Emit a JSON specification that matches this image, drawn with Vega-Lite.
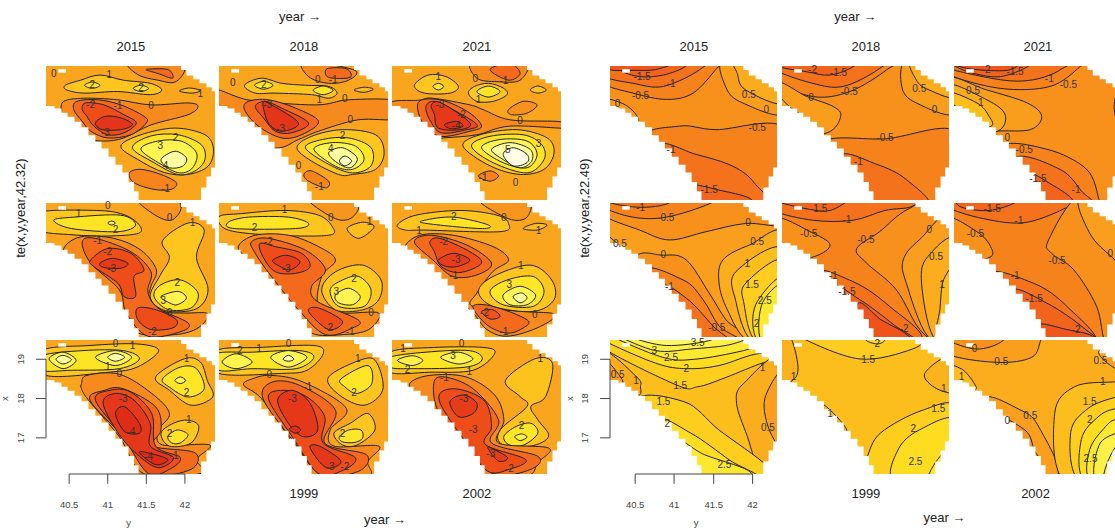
{"$schema":"https://vega.github.io/schema/vega-lite/v6.json","padding":{"left":0,"top":11,"right":0,"bottom":0},"background":"white","bounds":"flush","config":{"axis":{"disable":true},"view":{"stroke":null}},
"datasets":{"mask":[
{"m":1,"x":40.2,"y":18.47},{"m":1,"x":40.31,"y":18.41},{"m":1,"x":40.4,"y":18.3},{"m":1,"x":40.48,"y":18.2},{"m":1,"x":40.57,"y":18.07},{"m":1,"x":40.66,"y":17.93},{"m":1,"x":40.75,"y":17.73},{"m":1,"x":40.84,"y":17.56},{"m":1,"x":40.92,"y":17.39},{"m":1,"x":41.01,"y":17.18},{"m":1,"x":41.1,"y":16.98},{"m":1,"x":41.19,"y":16.78},{"m":1,"x":41.27,"y":16.54},{"m":1,"x":41.34,"y":16.3},{"m":1,"x":41.4,"y":16.08},{"m":1,"x":40.2,"y":16.08},
{"m":2,"x":41.93,"y":19.49},{"m":2,"x":41.95,"y":19.39},{"m":2,"x":42.02,"y":19.25},{"m":2,"x":42.11,"y":19.15},{"m":2,"x":42.19,"y":19.05},{"m":2,"x":42.28,"y":18.95},{"m":2,"x":42.35,"y":18.85},{"m":2,"x":42.39,"y":18.74},{"m":2,"x":42.39,"y":19.49},
{"m":3,"x":42.39,"y":16.91},{"m":3,"x":42.34,"y":16.68},{"m":3,"x":42.28,"y":16.4},{"m":3,"x":42.21,"y":16.08},{"m":3,"x":42.39,"y":16.08},
{"m":4,"x":40.36,"y":19.41},{"m":4,"x":40.46,"y":19.41},{"m":4,"x":40.46,"y":19.32},{"m":4,"x":40.36,"y":19.32}],
"d":[
{"p":1,"l":0.5},{"p":2,"l":0.5},{"p":3,"l":0.5},{"p":4,"l":0.5},{"p":5,"l":0.5},{"p":6,"l":0.5},{"p":7,"l":0.5},{"p":8,"l":0.5},{"p":9,"l":0.5},
{"p":11,"l":-0.25},{"p":12,"l":-0.25},{"p":13,"l":-0.25},{"p":14,"l":0.25},{"p":15,"l":-0.75},{"p":16,"l":-0.75},{"p":17,"l":1.25},{"p":18,"l":1.25},{"p":19,"l":0.75},
{"p":1,"l":1.5,"x":40.45,"y":19},{"p":1,"l":1.5,"x":40.65,"y":19.13},{"p":1,"l":1.5,"x":40.9,"y":19.26},{"p":1,"l":1.5,"x":41.2,"y":19.13},{"p":1,"l":1.5,"x":41.55,"y":19.05},{"p":1,"l":1.5,"x":41.7,"y":18.88},{"p":1,"l":1.5,"x":41.55,"y":18.76},{"p":1,"l":1.5,"x":41.13,"y":18.84},{"p":1,"l":1.5,"x":40.7,"y":18.8},{"p":1,"l":1.5,"x":40.47,"y":18.88},
{"p":1,"l":2.5,"x":40.7,"y":19},{"p":1,"l":2.5,"x":40.8,"y":19.08},{"p":1,"l":2.5,"x":40.9,"y":19},{"p":1,"l":2.5,"x":40.8,"y":18.92},
{"p":1,"l":2.51,"x":41.33,"y":18.92},{"p":1,"l":2.51,"x":41.43,"y":19},{"p":1,"l":2.51,"x":41.53,"y":18.92},{"p":1,"l":2.51,"x":41.43,"y":18.84},
{"p":1,"l":-0.5,"x":41.28,"y":19.6},{"p":1,"l":-0.5,"x":41.39,"y":19.27},{"p":1,"l":-0.5,"x":41.65,"y":19.13},{"p":1,"l":-0.5,"x":41.87,"y":19.08},{"p":1,"l":-0.5,"x":42,"y":19.4},{"p":1,"l":-0.5,"x":41.9,"y":19.7},
{"p":1,"l":-1.5,"x":41.5,"y":19.4},{"p":1,"l":-1.5,"x":41.65,"y":19.3},{"p":1,"l":-1.5,"x":41.84,"y":19.18},{"p":1,"l":-1.5,"x":41.78,"y":19.4},
{"p":1,"l":1.2,"x":41.93,"y":18.85},{"p":1,"l":1.2,"x":42.05,"y":18.93},{"p":1,"l":1.2,"x":42.2,"y":18.87},{"p":1,"l":1.2,"x":42.1,"y":18.8},
{"p":1,"l":-0.51,"x":40.39,"y":18.33},{"p":1,"l":-0.51,"x":40.43,"y":18.59},{"p":1,"l":-0.51,"x":40.69,"y":18.67},{"p":1,"l":-0.51,"x":41.13,"y":18.63},{"p":1,"l":-0.51,"x":41.56,"y":18.5},{"p":1,"l":-0.51,"x":42.04,"y":18.55},{"p":1,"l":-0.51,"x":42.17,"y":18.46},{"p":1,"l":-0.51,"x":42.04,"y":18.25},{"p":1,"l":-0.51,"x":41.56,"y":17.99},{"p":1,"l":-0.51,"x":41.21,"y":17.66},{"p":1,"l":-0.51,"x":40.95,"y":17.58},{"p":1,"l":-0.51,"x":40.69,"y":17.66},{"p":1,"l":-0.51,"x":40.34,"y":18.04},
{"p":1,"l":-1.51,"x":40.56,"y":18.38},{"p":1,"l":-1.51,"x":40.6,"y":18.59},{"p":1,"l":-1.51,"x":40.87,"y":18.63},{"p":1,"l":-1.51,"x":41.17,"y":18.5},{"p":1,"l":-1.51,"x":41.47,"y":18.21},{"p":1,"l":-1.51,"x":41.5,"y":18.04},{"p":1,"l":-1.51,"x":41.3,"y":17.74},{"p":1,"l":-1.51,"x":41,"y":17.66},{"p":1,"l":-1.51,"x":40.78,"y":17.83},{"p":1,"l":-1.51,"x":40.67,"y":18.08},
{"p":1,"l":-2.5,"x":40.67,"y":18.38},{"p":1,"l":-2.5,"x":40.71,"y":18.55},{"p":1,"l":-2.5,"x":40.95,"y":18.5},{"p":1,"l":-2.5,"x":41.21,"y":18.25},{"p":1,"l":-2.5,"x":41.37,"y":18.04},{"p":1,"l":-2.5,"x":41.21,"y":17.79},{"p":1,"l":-2.5,"x":41,"y":17.74},{"p":1,"l":-2.5,"x":40.82,"y":17.96},{"p":1,"l":-2.5,"x":40.73,"y":18.21},
{"p":1,"l":-3.5,"x":40.84,"y":18.04},{"p":1,"l":-3.5,"x":40.97,"y":18.21},{"p":1,"l":-3.5,"x":41.17,"y":18.17},{"p":1,"l":-3.5,"x":41.32,"y":18},{"p":1,"l":-3.5,"x":41.17,"y":17.87},{"p":1,"l":-3.5,"x":40.93,"y":17.87},
{"p":1,"l":1.51,"x":41.17,"y":17.45},{"p":1,"l":1.51,"x":41.43,"y":17.74},{"p":1,"l":1.51,"x":41.87,"y":17.91},{"p":1,"l":1.51,"x":42.26,"y":17.74},{"p":1,"l":1.51,"x":42.37,"y":17.37},{"p":1,"l":1.51,"x":42.3,"y":16.94},{"p":1,"l":1.51,"x":42.04,"y":16.73},{"p":1,"l":1.51,"x":41.73,"y":16.78},{"p":1,"l":1.51,"x":41.39,"y":17.11},
{"p":1,"l":2.52,"x":41.32,"y":17.41},{"p":1,"l":2.52,"x":41.56,"y":17.71},{"p":1,"l":2.52,"x":41.91,"y":17.74},{"p":1,"l":2.52,"x":42.21,"y":17.49},{"p":1,"l":2.52,"x":42.26,"y":17.11},{"p":1,"l":2.52,"x":42.13,"y":16.82},{"p":1,"l":2.52,"x":41.91,"y":16.73},{"p":1,"l":2.52,"x":41.6,"y":17.03},
{"p":1,"l":3.5,"x":41.43,"y":17.37},{"p":1,"l":3.5,"x":41.65,"y":17.58},{"p":1,"l":3.5,"x":41.95,"y":17.58},{"p":1,"l":3.5,"x":42.15,"y":17.28},{"p":1,"l":3.5,"x":42.1,"y":16.9},{"p":1,"l":3.5,"x":41.93,"y":16.77},{"p":1,"l":3.5,"x":41.69,"y":16.99},
{"p":1,"l":4.6,"x":41.69,"y":17.11},{"p":1,"l":4.6,"x":41.87,"y":17.32},{"p":1,"l":4.6,"x":42.02,"y":17.15},{"p":1,"l":4.6,"x":41.97,"y":16.94},{"p":1,"l":4.6,"x":41.8,"y":16.9},
{"p":1,"l":-0.7,"x":41.28,"y":16.77},{"p":1,"l":-0.7,"x":41.43,"y":16.86},{"p":1,"l":-0.7,"x":41.69,"y":16.73},{"p":1,"l":-0.7,"x":41.89,"y":16.52},{"p":1,"l":-0.7,"x":41.82,"y":16.35},{"p":1,"l":-0.7,"x":41.6,"y":16.35},{"p":1,"l":-0.7,"x":41.34,"y":16.52},
{"p":2,"l":1.5,"x":40.53,"y":19},{"p":2,"l":1.5,"x":40.75,"y":19.18},{"p":2,"l":1.5,"x":41.01,"y":19.05},{"p":2,"l":1.5,"x":41.32,"y":19},{"p":2,"l":1.5,"x":41.62,"y":18.97},{"p":2,"l":1.5,"x":41.73,"y":18.8},{"p":2,"l":1.5,"x":41.62,"y":18.67},{"p":2,"l":1.5,"x":41.4,"y":18.76},{"p":2,"l":1.5,"x":40.93,"y":18.8},{"p":2,"l":1.5,"x":40.67,"y":18.8},
{"p":2,"l":2.5,"x":40.66,"y":19},{"p":2,"l":2.5,"x":40.78,"y":19.1},{"p":2,"l":2.5,"x":40.9,"y":19},{"p":2,"l":2.5,"x":40.78,"y":18.9},
{"p":2,"l":2.51,"x":41.42,"y":18.87},{"p":2,"l":2.51,"x":41.55,"y":18.98},{"p":2,"l":2.51,"x":41.68,"y":18.87},{"p":2,"l":2.51,"x":41.55,"y":18.76},
{"p":2,"l":-0.5,"x":41.3,"y":19.6},{"p":2,"l":-0.5,"x":41.36,"y":19.22},{"p":2,"l":-0.5,"x":41.62,"y":19.05},{"p":2,"l":-0.5,"x":41.88,"y":19.13},{"p":2,"l":-0.5,"x":41.95,"y":19.39},
{"p":2,"l":-1.5,"x":41.62,"y":19.2},{"p":2,"l":-1.5,"x":41.9,"y":19.2},{"p":2,"l":-1.5,"x":41.85,"y":19.42},{"p":2,"l":-1.5,"x":41.6,"y":19.42},
{"p":2,"l":1.2,"x":41.95,"y":18.88},{"p":2,"l":1.2,"x":42.08,"y":18.95},{"p":2,"l":1.2,"x":42.2,"y":18.9},{"p":2,"l":1.2,"x":42.08,"y":18.82},
{"p":2,"l":-0.51,"x":40.1,"y":18.85},{"p":2,"l":-0.51,"x":40.6,"y":18.62},{"p":2,"l":-0.51,"x":41.45,"y":18.5},{"p":2,"l":-0.51,"x":41.88,"y":18.63},{"p":2,"l":-0.51,"x":42.5,"y":18.6},{"p":2,"l":-0.51,"x":42.5,"y":18.15},{"p":2,"l":-0.51,"x":42,"y":18.12},{"p":2,"l":-0.51,"x":41.49,"y":17.83},{"p":2,"l":-0.51,"x":41.23,"y":17.62},{"p":2,"l":-0.51,"x":40.93,"y":17.4},{"p":2,"l":-0.51,"x":40.3,"y":17.6},
{"p":2,"l":-1.51,"x":40.53,"y":18.38},{"p":2,"l":-1.51,"x":40.58,"y":18.59},{"p":2,"l":-1.51,"x":40.84,"y":18.63},{"p":2,"l":-1.51,"x":41.19,"y":18.42},{"p":2,"l":-1.51,"x":41.49,"y":18.08},{"p":2,"l":-1.51,"x":41.27,"y":17.74},{"p":2,"l":-1.51,"x":41.01,"y":17.66},{"p":2,"l":-1.51,"x":40.71,"y":17.96},
{"p":2,"l":-2.5,"x":40.67,"y":18.46},{"p":2,"l":-2.5,"x":40.8,"y":18.59},{"p":2,"l":-2.5,"x":41.01,"y":18.42},{"p":2,"l":-2.5,"x":41.36,"y":18.04},{"p":2,"l":-2.5,"x":41.14,"y":17.79},{"p":2,"l":-2.5,"x":40.93,"y":17.83},{"p":2,"l":-2.5,"x":40.78,"y":18.16},
{"p":2,"l":-3.5,"x":40.77,"y":18.55},{"p":2,"l":-3.5,"x":40.88,"y":18.5},{"p":2,"l":-3.5,"x":41.23,"y":18.04},{"p":2,"l":-3.5,"x":41.01,"y":17.83},{"p":2,"l":-3.5,"x":40.84,"y":18.04},
{"p":2,"l":1.51,"x":41.21,"y":17.41},{"p":2,"l":1.51,"x":41.4,"y":17.7},{"p":2,"l":1.51,"x":41.8,"y":17.87},{"p":2,"l":1.51,"x":42.23,"y":17.74},{"p":2,"l":1.51,"x":42.34,"y":17.28},{"p":2,"l":1.51,"x":42.23,"y":16.86},{"p":2,"l":1.51,"x":41.93,"y":16.73},{"p":2,"l":1.51,"x":41.75,"y":16.73},{"p":2,"l":1.51,"x":41.4,"y":17.07},
{"p":2,"l":2.52,"x":41.32,"y":17.41},{"p":2,"l":2.52,"x":41.54,"y":17.62},{"p":2,"l":2.52,"x":41.88,"y":17.66},{"p":2,"l":2.52,"x":42.17,"y":17.41},{"p":2,"l":2.52,"x":42.17,"y":16.95},{"p":2,"l":2.52,"x":41.93,"y":16.77},{"p":2,"l":2.52,"x":41.62,"y":16.99},
{"p":2,"l":3.5,"x":41.43,"y":17.37},{"p":2,"l":3.5,"x":41.67,"y":17.54},{"p":2,"l":3.5,"x":41.97,"y":17.45},{"p":2,"l":3.5,"x":42.08,"y":17.11},{"p":2,"l":3.5,"x":41.93,"y":16.86},{"p":2,"l":3.5,"x":41.71,"y":16.94},
{"p":2,"l":4.5,"x":41.62,"y":17.28},{"p":2,"l":4.5,"x":41.8,"y":17.41},{"p":2,"l":4.5,"x":41.99,"y":17.15},{"p":2,"l":4.5,"x":41.9,"y":16.9},{"p":2,"l":4.5,"x":41.73,"y":17.03},
{"p":2,"l":5,"x":41.76,"y":17.07},{"p":2,"l":5,"x":41.83,"y":17.2},{"p":2,"l":5,"x":41.92,"y":17.07},{"p":2,"l":5,"x":41.83,"y":16.95},
{"p":2,"l":-0.7,"x":41.3,"y":16.73},{"p":2,"l":-0.7,"x":41.4,"y":16.82},{"p":2,"l":-0.7,"x":41.62,"y":16.56},{"p":2,"l":-0.7,"x":41.58,"y":16.39},{"p":2,"l":-0.7,"x":41.36,"y":16.56},
{"p":3,"l":1.5,"x":40.49,"y":19},{"p":3,"l":1.5,"x":40.67,"y":19.26},{"p":3,"l":1.5,"x":40.9,"y":19.22},{"p":3,"l":1.5,"x":41.06,"y":18.97},{"p":3,"l":1.5,"x":40.95,"y":18.8},{"p":3,"l":1.5,"x":40.62,"y":18.8},
{"p":3,"l":2.5,"x":40.73,"y":18.97},{"p":3,"l":2.5,"x":40.8,"y":19.05},{"p":3,"l":2.5,"x":40.87,"y":18.97},{"p":3,"l":2.5,"x":40.8,"y":18.88},
{"p":3,"l":1.51,"x":41.19,"y":18.8},{"p":3,"l":1.51,"x":41.27,"y":18.97},{"p":3,"l":1.51,"x":41.45,"y":19.05},{"p":3,"l":1.51,"x":41.64,"y":18.93},{"p":3,"l":1.51,"x":41.69,"y":18.76},{"p":3,"l":1.51,"x":41.51,"y":18.59},{"p":3,"l":1.51,"x":41.3,"y":18.59},
{"p":3,"l":2.51,"x":41.3,"y":18.84},{"p":3,"l":2.51,"x":41.45,"y":18.98},{"p":3,"l":2.51,"x":41.6,"y":18.84},{"p":3,"l":2.51,"x":41.45,"y":18.7},
{"p":3,"l":1.3,"x":41.99,"y":18.88},{"p":3,"l":1.3,"x":42.09,"y":18.98},{"p":3,"l":1.3,"x":42.2,"y":18.88},{"p":3,"l":1.3,"x":42.09,"y":18.8},
{"p":3,"l":-0.5,"x":41.25,"y":19.6},{"p":3,"l":-0.5,"x":41.3,"y":19.18},{"p":3,"l":-0.5,"x":41.56,"y":19.09},{"p":3,"l":-0.5,"x":41.86,"y":19.13},{"p":3,"l":-0.5,"x":41.93,"y":19.6},
{"p":3,"l":-1.5,"x":41.47,"y":19.4},{"p":3,"l":-1.5,"x":41.71,"y":19.13},{"p":3,"l":-1.5,"x":41.86,"y":19.3},{"p":3,"l":-1.5,"x":41.73,"y":19.55},
{"p":3,"l":-0.2,"x":41.71,"y":18.38},{"p":3,"l":-0.2,"x":41.9,"y":18.59},{"p":3,"l":-0.2,"x":42.08,"y":18.5},{"p":3,"l":-0.2,"x":41.95,"y":18.29},{"p":3,"l":-0.2,"x":41.75,"y":18.25},
{"p":3,"l":-0.51,"x":40.15,"y":18.5},{"p":3,"l":-0.51,"x":40.55,"y":18.62},{"p":3,"l":-0.51,"x":40.73,"y":18.67},{"p":3,"l":-0.51,"x":41.21,"y":18.5},{"p":3,"l":-0.51,"x":41.38,"y":18.38},{"p":3,"l":-0.51,"x":41.73,"y":18.12},{"p":3,"l":-0.51,"x":42.34,"y":18.08},{"p":3,"l":-0.51,"x":42.5,"y":18},{"p":3,"l":-0.51,"x":42.5,"y":17.9},{"p":3,"l":-0.51,"x":41.73,"y":17.96},{"p":3,"l":-0.51,"x":41.3,"y":17.74},{"p":3,"l":-0.51,"x":40.87,"y":17.66},{"p":3,"l":-0.51,"x":40.4,"y":17.6},
{"p":3,"l":-1.51,"x":40.53,"y":18.5},{"p":3,"l":-1.51,"x":40.64,"y":18.65},{"p":3,"l":-1.51,"x":40.9,"y":18.59},{"p":3,"l":-1.51,"x":41.21,"y":18.29},{"p":3,"l":-1.51,"x":41.36,"y":17.96},{"p":3,"l":-1.51,"x":41.21,"y":17.83},{"p":3,"l":-1.51,"x":40.82,"y":17.7},{"p":3,"l":-1.51,"x":40.6,"y":18.04},
{"p":3,"l":-2.5,"x":40.64,"y":18.46},{"p":3,"l":-2.5,"x":40.75,"y":18.59},{"p":3,"l":-2.5,"x":40.99,"y":18.38},{"p":3,"l":-2.5,"x":41.3,"y":18},{"p":3,"l":-2.5,"x":41.17,"y":17.87},{"p":3,"l":-2.5,"x":40.84,"y":17.79},{"p":3,"l":-2.5,"x":40.69,"y":18.12},
{"p":3,"l":-3.3,"x":40.71,"y":18.5},{"p":3,"l":-3.3,"x":40.84,"y":18.55},{"p":3,"l":-3.3,"x":41.21,"y":18.04},{"p":3,"l":-3.3,"x":41.08,"y":17.87},{"p":3,"l":-3.3,"x":40.8,"y":17.91},{"p":3,"l":-3.3,"x":40.75,"y":18.25},
{"p":3,"l":-4,"x":40.88,"y":18},{"p":3,"l":-4,"x":41.04,"y":18.08},{"p":3,"l":-4,"x":41.12,"y":17.96},{"p":3,"l":-4,"x":40.97,"y":17.89},
{"p":3,"l":1.52,"x":41.12,"y":17.45},{"p":3,"l":1.52,"x":41.34,"y":17.74},{"p":3,"l":1.52,"x":41.82,"y":17.87},{"p":3,"l":1.52,"x":42.21,"y":17.66},{"p":3,"l":1.52,"x":42.3,"y":17.28},{"p":3,"l":1.52,"x":42.17,"y":16.86},{"p":3,"l":1.52,"x":41.86,"y":16.73},{"p":3,"l":1.52,"x":41.47,"y":16.95},
{"p":3,"l":2.52,"x":41.23,"y":17.45},{"p":3,"l":2.52,"x":41.47,"y":17.7},{"p":3,"l":2.52,"x":41.9,"y":17.74},{"p":3,"l":2.52,"x":42.14,"y":17.49},{"p":3,"l":2.52,"x":42.17,"y":17.11},{"p":3,"l":2.52,"x":41.95,"y":16.77},{"p":3,"l":2.52,"x":41.51,"y":17.03},
{"p":3,"l":3.5,"x":41.36,"y":17.41},{"p":3,"l":3.5,"x":41.6,"y":17.62},{"p":3,"l":3.5,"x":41.95,"y":17.58},{"p":3,"l":3.5,"x":42.08,"y":17.24},{"p":3,"l":3.5,"x":41.95,"y":16.9},{"p":3,"l":3.5,"x":41.64,"y":17.03},
{"p":3,"l":4.5,"x":41.49,"y":17.37},{"p":3,"l":4.5,"x":41.73,"y":17.54},{"p":3,"l":4.5,"x":41.99,"y":17.37},{"p":3,"l":4.5,"x":42.01,"y":17.07},{"p":3,"l":4.5,"x":41.86,"y":16.9},{"p":3,"l":4.5,"x":41.64,"y":17.11},
{"p":3,"l":5.6,"x":41.64,"y":17.24},{"p":3,"l":5.6,"x":41.77,"y":17.41},{"p":3,"l":5.6,"x":41.95,"y":17.24},{"p":3,"l":5.6,"x":41.95,"y":17.03},{"p":3,"l":5.6,"x":41.77,"y":16.95},
{"p":3,"l":-0.8,"x":41.32,"y":16.69},{"p":3,"l":-0.8,"x":41.47,"y":16.82},{"p":3,"l":-0.8,"x":41.58,"y":16.69},{"p":3,"l":-0.8,"x":41.47,"y":16.56},
{"p":4,"l":1.5,"x":40.1,"y":19.25},{"p":4,"l":1.5,"x":40.85,"y":19.3},{"p":4,"l":1.5,"x":41.2,"y":19.2},{"p":4,"l":1.5,"x":41.4,"y":18.95},{"p":4,"l":1.5,"x":41.4,"y":18.72},{"p":4,"l":1.5,"x":41,"y":18.65},{"p":4,"l":1.5,"x":40.55,"y":18.68},{"p":4,"l":1.5,"x":40.1,"y":18.8},
{"p":4,"l":2.5,"x":40.3,"y":19.05},{"p":4,"l":2.5,"x":40.56,"y":19.13},{"p":4,"l":2.5,"x":41.17,"y":19.18},{"p":4,"l":2.5,"x":41.36,"y":18.93},{"p":4,"l":2.5,"x":41.13,"y":18.76},{"p":4,"l":2.5,"x":40.53,"y":18.84},
{"p":4,"l":3,"x":41,"y":18.98},{"p":4,"l":3,"x":41.05,"y":19.03},{"p":4,"l":3,"x":41.1,"y":18.98},{"p":4,"l":3,"x":41.05,"y":18.93},
{"p":4,"l":-0.2,"x":41.39,"y":19.6},{"p":4,"l":-0.2,"x":41.6,"y":19.2},{"p":4,"l":-0.2,"x":41.82,"y":19.05},{"p":4,"l":-0.2,"x":41.95,"y":19.35},{"p":4,"l":-0.2,"x":41.85,"y":19.6},
{"p":4,"l":1.51,"x":42.04,"y":18.98},{"p":4,"l":1.51,"x":41.71,"y":18.53},{"p":4,"l":1.51,"x":41.8,"y":18.1},{"p":4,"l":1.51,"x":41.68,"y":17.65},{"p":4,"l":1.51,"x":41.55,"y":17.1},{"p":4,"l":1.51,"x":41.75,"y":16.75},{"p":4,"l":1.51,"x":42.15,"y":16.8},{"p":4,"l":1.51,"x":42.3,"y":17.3},{"p":4,"l":1.51,"x":42.15,"y":18.1},{"p":4,"l":1.51,"x":42.25,"y":18.8},
{"p":4,"l":2.51,"x":41.6,"y":17.11},{"p":4,"l":2.51,"x":41.69,"y":17.41},{"p":4,"l":2.51,"x":41.95,"y":17.53},{"p":4,"l":2.51,"x":42.17,"y":17.2},{"p":4,"l":2.51,"x":42.08,"y":16.82},{"p":4,"l":2.51,"x":41.78,"y":16.78},
{"p":4,"l":3.4,"x":41.69,"y":17.11},{"p":4,"l":3.4,"x":41.91,"y":17.24},{"p":4,"l":3.4,"x":42.02,"y":17.07},{"p":4,"l":3.4,"x":41.9,"y":16.9},{"p":4,"l":3.4,"x":41.8,"y":16.95},
{"p":4,"l":-0.5,"x":40.43,"y":18.33},{"p":4,"l":-0.5,"x":40.65,"y":18.63},{"p":4,"l":-0.5,"x":41.08,"y":18.59},{"p":4,"l":-0.5,"x":41.43,"y":18.29},{"p":4,"l":-0.5,"x":41.63,"y":17.79},{"p":4,"l":-0.5,"x":41.56,"y":17.37},{"p":4,"l":-0.5,"x":41.54,"y":17.03},{"p":4,"l":-0.5,"x":41.73,"y":16.73},{"p":4,"l":-0.5,"x":42,"y":16.69},{"p":4,"l":-0.5,"x":42.3,"y":16.67},{"p":4,"l":-0.5,"x":42.17,"y":16.31},{"p":4,"l":-0.5,"x":41.87,"y":16.14},{"p":4,"l":-0.5,"x":41.39,"y":16.18},{"p":4,"l":-0.5,"x":41.17,"y":16.69},{"p":4,"l":-0.5,"x":40.87,"y":17.37},{"p":4,"l":-0.5,"x":40.52,"y":17.96},
{"p":4,"l":-1.5,"x":40.67,"y":18.5},{"p":4,"l":-1.5,"x":40.84,"y":18.59},{"p":4,"l":-1.5,"x":41.3,"y":18.25},{"p":4,"l":-1.5,"x":41.56,"y":17.74},{"p":4,"l":-1.5,"x":41.52,"y":17.24},{"p":4,"l":-1.5,"x":41.65,"y":16.82},{"p":4,"l":-1.5,"x":42.04,"y":16.44},{"p":4,"l":-1.5,"x":41.95,"y":16.22},{"p":4,"l":-1.5,"x":41.52,"y":16.1},{"p":4,"l":-1.5,"x":41.24,"y":16.69},{"p":4,"l":-1.5,"x":41.15,"y":17.28},{"p":4,"l":-1.5,"x":40.78,"y":17.96},
{"p":4,"l":-2.5,"x":40.78,"y":18.04},{"p":4,"l":-2.5,"x":41,"y":18.33},{"p":4,"l":-2.5,"x":41.3,"y":18.21},{"p":4,"l":-2.5,"x":41.47,"y":17.79},{"p":4,"l":-2.5,"x":41.34,"y":17.62},{"p":4,"l":-2.5,"x":41.36,"y":17.11},{"p":4,"l":-2.5,"x":41.21,"y":17.11},{"p":4,"l":-2.5,"x":41.13,"y":17.45},{"p":4,"l":-2.5,"x":40.82,"y":17.87},
{"p":4,"l":-3.3,"x":40.9,"y":17.96},{"p":4,"l":-3.3,"x":41.06,"y":18.08},{"p":4,"l":-3.3,"x":41.26,"y":17.96},{"p":4,"l":-3.3,"x":41.17,"y":17.83},{"p":4,"l":-3.3,"x":40.95,"y":17.85},
{"p":4,"l":-2.51,"x":41.39,"y":16.82},{"p":4,"l":-2.51,"x":41.63,"y":16.77},{"p":4,"l":-2.51,"x":41.89,"y":16.52},{"p":4,"l":-2.51,"x":41.84,"y":16.31},{"p":4,"l":-2.51,"x":41.56,"y":16.27},{"p":4,"l":-2.51,"x":41.39,"y":16.52},
{"p":5,"l":1.5,"x":40.2,"y":19.14},{"p":5,"l":1.5,"x":40.49,"y":19.22},{"p":5,"l":1.5,"x":41.06,"y":19.3},{"p":5,"l":1.5,"x":41.49,"y":19.18},{"p":5,"l":1.5,"x":41.67,"y":18.88},{"p":5,"l":1.5,"x":41.62,"y":18.67},{"p":5,"l":1.5,"x":40.93,"y":18.67},{"p":5,"l":1.5,"x":40.32,"y":18.8},
{"p":5,"l":2.5,"x":40.32,"y":19},{"p":5,"l":2.5,"x":40.58,"y":19.13},{"p":5,"l":2.5,"x":41.1,"y":19.13},{"p":5,"l":2.5,"x":41.36,"y":18.97},{"p":5,"l":2.5,"x":41.19,"y":18.84},{"p":5,"l":2.5,"x":40.4,"y":18.84},
{"p":5,"l":-0.1,"x":41.36,"y":19.6},{"p":5,"l":-0.1,"x":41.71,"y":19.09},{"p":5,"l":-0.1,"x":41.93,"y":19.13},{"p":5,"l":-0.1,"x":41.97,"y":19.5},
{"p":5,"l":1.2,"x":41.86,"y":18.84},{"p":5,"l":1.2,"x":42.06,"y":19},{"p":5,"l":1.2,"x":42.21,"y":18.88},{"p":5,"l":1.2,"x":42.01,"y":18.59},
{"p":5,"l":-0.5,"x":40.45,"y":18.38},{"p":5,"l":-0.5,"x":40.67,"y":18.67},{"p":5,"l":-0.5,"x":41.1,"y":18.67},{"p":5,"l":-0.5,"x":41.49,"y":18.38},{"p":5,"l":-0.5,"x":41.71,"y":18.04},{"p":5,"l":-0.5,"x":41.53,"y":17.62},{"p":5,"l":-0.5,"x":41.49,"y":16.86},{"p":5,"l":-0.5,"x":41.8,"y":16.69},{"p":5,"l":-0.5,"x":42.27,"y":16.69},{"p":5,"l":-0.5,"x":42.14,"y":16.27},{"p":5,"l":-0.5,"x":41.8,"y":16.14},{"p":5,"l":-0.5,"x":41.4,"y":16.18},{"p":5,"l":-0.5,"x":41.14,"y":16.77},{"p":5,"l":-0.5,"x":40.84,"y":17.45},{"p":5,"l":-0.5,"x":40.58,"y":18.04},
{"p":5,"l":-1.5,"x":40.62,"y":18.5},{"p":5,"l":-1.5,"x":40.84,"y":18.59},{"p":5,"l":-1.5,"x":41.32,"y":18.29},{"p":5,"l":-1.5,"x":41.58,"y":17.79},{"p":5,"l":-1.5,"x":41.4,"y":17.37},{"p":5,"l":-1.5,"x":41.47,"y":16.99},{"p":5,"l":-1.5,"x":42,"y":16.52},{"p":5,"l":-1.5,"x":41.93,"y":16.31},{"p":5,"l":-1.5,"x":41.58,"y":16.14},{"p":5,"l":-1.5,"x":41.23,"y":16.77},{"p":5,"l":-1.5,"x":40.88,"y":17.62},{"p":5,"l":-1.5,"x":40.67,"y":18.21},
{"p":5,"l":-2.5,"x":40.73,"y":18.46},{"p":5,"l":-2.5,"x":40.93,"y":18.38},{"p":5,"l":-2.5,"x":41.27,"y":18.21},{"p":5,"l":-2.5,"x":41.38,"y":17.87},{"p":5,"l":-2.5,"x":41.19,"y":17.7},{"p":5,"l":-2.5,"x":40.93,"y":17.74},{"p":5,"l":-2.5,"x":40.77,"y":18.12},
{"p":5,"l":-3.2,"x":40.9,"y":18.04},{"p":5,"l":-3.2,"x":41.07,"y":18.16},{"p":5,"l":-3.2,"x":41.25,"y":18},{"p":5,"l":-3.2,"x":41.12,"y":17.79},{"p":5,"l":-3.2,"x":40.95,"y":17.92},
{"p":5,"l":-2.51,"x":41.36,"y":16.73},{"p":5,"l":-2.51,"x":41.49,"y":16.82},{"p":5,"l":-2.51,"x":41.8,"y":16.48},{"p":5,"l":-2.51,"x":41.62,"y":16.27},
{"p":5,"l":1.51,"x":41.53,"y":17.28},{"p":5,"l":1.51,"x":41.71,"y":17.74},{"p":5,"l":1.51,"x":42.06,"y":17.91},{"p":5,"l":1.51,"x":42.3,"y":17.53},{"p":5,"l":1.51,"x":42.27,"y":17.03},{"p":5,"l":1.51,"x":42.06,"y":16.77},{"p":5,"l":1.51,"x":41.71,"y":16.77},
{"p":5,"l":2.51,"x":41.64,"y":17.28},{"p":5,"l":2.51,"x":41.8,"y":17.53},{"p":5,"l":2.51,"x":42.01,"y":17.62},{"p":5,"l":2.51,"x":42.17,"y":17.28},{"p":5,"l":2.51,"x":42.08,"y":16.86},{"p":5,"l":2.51,"x":41.75,"y":16.86},
{"p":5,"l":3.5,"x":41.71,"y":17.15},{"p":5,"l":3.5,"x":41.88,"y":17.32},{"p":5,"l":3.5,"x":42.03,"y":17.11},{"p":5,"l":3.5,"x":41.93,"y":16.9},{"p":5,"l":3.5,"x":41.75,"y":16.95},
{"p":6,"l":1.5,"x":40.27,"y":18.93},{"p":6,"l":1.5,"x":40.51,"y":19.18},{"p":6,"l":1.5,"x":41.08,"y":19.3},{"p":6,"l":1.5,"x":41.56,"y":19.18},{"p":6,"l":1.5,"x":41.71,"y":18.97},{"p":6,"l":1.5,"x":41.6,"y":18.76},{"p":6,"l":1.5,"x":40.64,"y":18.8},{"p":6,"l":1.5,"x":40.38,"y":18.8},
{"p":6,"l":2.5,"x":40.62,"y":19.05},{"p":6,"l":2.5,"x":41,"y":19.13},{"p":6,"l":2.5,"x":41.45,"y":18.93},{"p":6,"l":2.5,"x":41.34,"y":18.84},{"p":6,"l":2.5,"x":40.64,"y":18.97},
{"p":6,"l":-0.1,"x":41.32,"y":19.6},{"p":6,"l":-0.1,"x":41.71,"y":19.09},{"p":6,"l":-0.1,"x":41.95,"y":19.13},{"p":6,"l":-0.1,"x":41.95,"y":19.6},
{"p":6,"l":1.2,"x":41.9,"y":18.84},{"p":6,"l":1.2,"x":42.06,"y":18.97},{"p":6,"l":1.2,"x":42.21,"y":18.93},{"p":6,"l":1.2,"x":42.08,"y":18.8},
{"p":6,"l":-0.5,"x":40.36,"y":18.33},{"p":6,"l":-0.5,"x":40.56,"y":18.67},{"p":6,"l":-0.5,"x":40.99,"y":18.67},{"p":6,"l":-0.5,"x":41.51,"y":18.38},{"p":6,"l":-0.5,"x":41.71,"y":18.04},{"p":6,"l":-0.5,"x":41.51,"y":17.75},{"p":6,"l":-0.5,"x":41.3,"y":17.2},{"p":6,"l":-0.5,"x":41.25,"y":16.86},{"p":6,"l":-0.5,"x":41.9,"y":16.73},{"p":6,"l":-0.5,"x":42.32,"y":16.65},{"p":6,"l":-0.5,"x":42.08,"y":16.31},{"p":6,"l":-0.5,"x":41.69,"y":16.1},{"p":6,"l":-0.5,"x":41.43,"y":16.27},{"p":6,"l":-0.5,"x":41.25,"y":16.69},{"p":6,"l":-0.5,"x":40.86,"y":17.45},{"p":6,"l":-0.5,"x":40.56,"y":18.04},
{"p":6,"l":-1.5,"x":41.25,"y":16.86},{"p":6,"l":-1.5,"x":41.51,"y":16.86},{"p":6,"l":-1.5,"x":41.95,"y":16.52},{"p":6,"l":-1.5,"x":41.9,"y":16.31},{"p":6,"l":-1.5,"x":41.69,"y":16.18},{"p":6,"l":-1.5,"x":41.43,"y":16.39},
{"p":6,"l":-1.51,"x":40.49,"y":18.5},{"p":6,"l":-1.51,"x":40.71,"y":18.67},{"p":6,"l":-1.51,"x":41.17,"y":18.42},{"p":6,"l":-1.51,"x":41.49,"y":17.96},{"p":6,"l":-1.51,"x":41.3,"y":17.66},{"p":6,"l":-1.51,"x":40.99,"y":17.62},{"p":6,"l":-1.51,"x":40.73,"y":18.04},
{"p":6,"l":-2.5,"x":40.69,"y":18.5},{"p":6,"l":-2.5,"x":40.82,"y":18.59},{"p":6,"l":-2.5,"x":41.21,"y":18.25},{"p":6,"l":-2.5,"x":41.36,"y":17.96},{"p":6,"l":-2.5,"x":41.08,"y":17.72},{"p":6,"l":-2.5,"x":40.84,"y":17.87},{"p":6,"l":-2.5,"x":40.75,"y":18.25},
{"p":6,"l":-3.2,"x":40.8,"y":18.04},{"p":6,"l":-3.2,"x":41,"y":18.21},{"p":6,"l":-3.2,"x":41.21,"y":18.04},{"p":6,"l":-3.2,"x":41.04,"y":17.87},{"p":6,"l":-3.2,"x":40.88,"y":17.89},
{"p":6,"l":-2.3,"x":41.36,"y":16.73},{"p":6,"l":-2.3,"x":41.51,"y":16.77},{"p":6,"l":-2.3,"x":41.6,"y":16.6},{"p":6,"l":-2.3,"x":41.47,"y":16.54},
{"p":6,"l":1.51,"x":41.32,"y":17.24},{"p":6,"l":1.51,"x":41.51,"y":17.62},{"p":6,"l":1.51,"x":41.99,"y":17.91},{"p":6,"l":1.51,"x":42.27,"y":17.53},{"p":6,"l":1.51,"x":42.3,"y":17.03},{"p":6,"l":1.51,"x":42.03,"y":16.73},{"p":6,"l":1.51,"x":41.51,"y":16.86},
{"p":6,"l":2.51,"x":41.47,"y":17.24},{"p":6,"l":2.51,"x":41.69,"y":17.53},{"p":6,"l":2.51,"x":42.03,"y":17.62},{"p":6,"l":2.51,"x":42.17,"y":17.24},{"p":6,"l":2.51,"x":42.03,"y":16.86},{"p":6,"l":2.51,"x":41.64,"y":16.9},
{"p":6,"l":3.5,"x":41.64,"y":17.15},{"p":6,"l":3.5,"x":41.86,"y":17.37},{"p":6,"l":3.5,"x":42.06,"y":17.15},{"p":6,"l":3.5,"x":41.95,"y":16.9},{"p":6,"l":3.5,"x":41.73,"y":16.9},
{"p":6,"l":4.5,"x":41.77,"y":17.11},{"p":6,"l":4.5,"x":41.88,"y":17.2},{"p":6,"l":4.5,"x":41.95,"y":17.07},{"p":6,"l":4.5,"x":41.86,"y":16.95},
{"p":7,"l":1.5,"x":40.15,"y":19.22},{"p":7,"l":1.5,"x":40.77,"y":19.35},{"p":7,"l":1.5,"x":41.38,"y":19.39},{"p":7,"l":1.5,"x":41.66,"y":19.22},{"p":7,"l":1.5,"x":41.38,"y":18.8},{"p":7,"l":1.5,"x":41.01,"y":18.67},{"p":7,"l":1.5,"x":40.2,"y":18.59},
{"p":7,"l":2.5,"x":40.15,"y":19.09},{"p":7,"l":2.5,"x":40.68,"y":19.22},{"p":7,"l":2.5,"x":41.2,"y":19.22},{"p":7,"l":2.5,"x":41.41,"y":19.01},{"p":7,"l":2.5,"x":41.15,"y":18.76},{"p":7,"l":2.5,"x":40.54,"y":18.72},{"p":7,"l":2.5,"x":40.15,"y":18.72},
{"p":7,"l":3.5,"x":40.24,"y":19.01},{"p":7,"l":3.5,"x":40.42,"y":19.18},{"p":7,"l":3.5,"x":40.59,"y":18.97},{"p":7,"l":3.5,"x":40.42,"y":18.76},
{"p":7,"l":3.51,"x":40.84,"y":19.05},{"p":7,"l":3.51,"x":41.1,"y":19.22},{"p":7,"l":3.51,"x":41.31,"y":19.05},{"p":7,"l":3.51,"x":41.1,"y":18.84},
{"p":7,"l":4.5,"x":40.33,"y":19},{"p":7,"l":4.5,"x":40.42,"y":19.1},{"p":7,"l":4.5,"x":40.53,"y":18.99},{"p":7,"l":4.5,"x":40.42,"y":18.88},
{"p":7,"l":4.6,"x":41,"y":19.05},{"p":7,"l":4.6,"x":41.1,"y":19.15},{"p":7,"l":4.6,"x":41.22,"y":19.05},{"p":7,"l":4.6,"x":41.1,"y":18.95},
{"p":7,"l":1.51,"x":41.62,"y":18.55},{"p":7,"l":1.51,"x":41.99,"y":19.01},{"p":7,"l":1.51,"x":42.2,"y":18.93},{"p":7,"l":1.51,"x":42.29,"y":18.46},{"p":7,"l":1.51,"x":42.36,"y":18.04},{"p":7,"l":1.51,"x":42.08,"y":17.83},{"p":7,"l":1.51,"x":41.8,"y":18.21},
{"p":7,"l":2.51,"x":41.71,"y":18.5},{"p":7,"l":2.51,"x":41.94,"y":18.8},{"p":7,"l":2.51,"x":42.15,"y":18.76},{"p":7,"l":2.51,"x":42.25,"y":18.25},{"p":7,"l":2.51,"x":42.04,"y":18.04},{"p":7,"l":2.51,"x":41.8,"y":18.29},
{"p":7,"l":3.4,"x":41.87,"y":18.46},{"p":7,"l":3.4,"x":41.94,"y":18.55},{"p":7,"l":3.4,"x":42.01,"y":18.46},{"p":7,"l":3.4,"x":41.94,"y":18.38},
{"p":7,"l":-0.5,"x":40.66,"y":18.38},{"p":7,"l":-0.5,"x":40.73,"y":18.59},{"p":7,"l":-0.5,"x":41.15,"y":18.62},{"p":7,"l":-0.5,"x":41.57,"y":18.13},{"p":7,"l":-0.5,"x":41.8,"y":17.62},{"p":7,"l":-0.5,"x":41.66,"y":17.2},{"p":7,"l":-0.5,"x":41.71,"y":16.82},{"p":7,"l":-0.5,"x":42.32,"y":16.82},{"p":7,"l":-0.5,"x":42.15,"y":16.45},{"p":7,"l":-0.5,"x":42.22,"y":16.1},{"p":7,"l":-0.5,"x":41.48,"y":16.07},{"p":7,"l":-0.5,"x":41.15,"y":17.03},{"p":7,"l":-0.5,"x":40.75,"y":17.96},{"p":7,"l":-0.5,"x":40.66,"y":18.25},
{"p":7,"l":-1.5,"x":40.77,"y":17.96},{"p":7,"l":-1.5,"x":40.96,"y":18.21},{"p":7,"l":-1.5,"x":41.2,"y":18.25},{"p":7,"l":-1.5,"x":41.62,"y":17.79},{"p":7,"l":-1.5,"x":41.69,"y":17.2},{"p":7,"l":-1.5,"x":41.59,"y":16.79},{"p":7,"l":-1.5,"x":42.13,"y":16.62},{"p":7,"l":-1.5,"x":42.08,"y":16.2},{"p":7,"l":-1.5,"x":41.57,"y":16.1},{"p":7,"l":-1.5,"x":41.2,"y":17.03},
{"p":7,"l":-2.5,"x":40.84,"y":17.96},{"p":7,"l":-2.5,"x":41.03,"y":18.21},{"p":7,"l":-2.5,"x":41.29,"y":18.17},{"p":7,"l":-2.5,"x":41.57,"y":17.62},{"p":7,"l":-2.5,"x":41.62,"y":16.79},{"p":7,"l":-2.5,"x":41.94,"y":16.5},{"p":7,"l":-2.5,"x":41.8,"y":16.2},{"p":7,"l":-2.5,"x":41.52,"y":16.1},{"p":7,"l":-2.5,"x":41.2,"y":17.03},
{"p":7,"l":-3.4,"x":40.94,"y":17.88},{"p":7,"l":-3.4,"x":41.1,"y":18.13},{"p":7,"l":-3.4,"x":41.34,"y":17.96},{"p":7,"l":-3.4,"x":41.55,"y":17.37},{"p":7,"l":-3.4,"x":41.55,"y":16.79},{"p":7,"l":-3.4,"x":41.85,"y":16.5},{"p":7,"l":-3.4,"x":41.66,"y":16.24},{"p":7,"l":-3.4,"x":41.41,"y":16.53},{"p":7,"l":-3.4,"x":41.15,"y":17.08},
{"p":7,"l":-4.3,"x":41.1,"y":17.62},{"p":7,"l":-4.3,"x":41.22,"y":17.79},{"p":7,"l":-4.3,"x":41.41,"y":17.37},{"p":7,"l":-4.3,"x":41.41,"y":17.12},{"p":7,"l":-4.3,"x":41.22,"y":17.16},
{"p":7,"l":-4.5,"x":41.41,"y":16.62},{"p":7,"l":-4.5,"x":41.52,"y":16.62},{"p":7,"l":-4.5,"x":41.78,"y":16.45},{"p":7,"l":-4.5,"x":41.62,"y":16.32},
{"p":7,"l":1.52,"x":41.69,"y":17.12},{"p":7,"l":1.52,"x":41.85,"y":17.37},{"p":7,"l":1.52,"x":42.04,"y":17.45},{"p":7,"l":1.52,"x":42.18,"y":17.29},{"p":7,"l":1.52,"x":42.08,"y":16.87},{"p":7,"l":1.52,"x":41.8,"y":16.79},
{"p":7,"l":2.52,"x":41.78,"y":17.03},{"p":7,"l":2.52,"x":41.9,"y":17.2},{"p":7,"l":2.52,"x":42.04,"y":17.08},{"p":7,"l":2.52,"x":41.94,"y":16.87},{"p":7,"l":2.52,"x":41.83,"y":16.87},
{"p":8,"l":1.5,"x":40.17,"y":19.22},{"p":8,"l":1.5,"x":40.73,"y":19.3},{"p":8,"l":1.5,"x":41.43,"y":19.35},{"p":8,"l":1.5,"x":41.55,"y":19.14},{"p":8,"l":1.5,"x":41.34,"y":18.72},{"p":8,"l":1.5,"x":41.01,"y":18.64},{"p":8,"l":1.5,"x":40.2,"y":18.64},
{"p":8,"l":2.5,"x":40.17,"y":19.14},{"p":8,"l":2.5,"x":40.63,"y":19.18},{"p":8,"l":2.5,"x":41.24,"y":19.22},{"p":8,"l":2.5,"x":41.43,"y":19.05},{"p":8,"l":2.5,"x":41.2,"y":18.76},{"p":8,"l":2.5,"x":40.63,"y":18.76},{"p":8,"l":2.5,"x":40.2,"y":18.72},
{"p":8,"l":3.4,"x":40.24,"y":18.93},{"p":8,"l":3.4,"x":40.42,"y":19.14},{"p":8,"l":3.4,"x":40.63,"y":18.93},{"p":8,"l":3.4,"x":40.42,"y":18.76},
{"p":8,"l":3.5,"x":40.87,"y":19.05},{"p":8,"l":3.5,"x":41.1,"y":19.22},{"p":8,"l":3.5,"x":41.34,"y":19.05},{"p":8,"l":3.5,"x":41.1,"y":18.8},
{"p":8,"l":4.6,"x":41.03,"y":19},{"p":8,"l":4.6,"x":41.1,"y":19.1},{"p":8,"l":4.6,"x":41.17,"y":19},{"p":8,"l":4.6,"x":41.1,"y":18.95},
{"p":8,"l":1.51,"x":41.62,"y":18.55},{"p":8,"l":1.51,"x":42.08,"y":19.01},{"p":8,"l":1.51,"x":42.25,"y":18.89},{"p":8,"l":1.51,"x":42.32,"y":18.21},{"p":8,"l":1.51,"x":42.08,"y":17.83},{"p":8,"l":1.51,"x":41.76,"y":18.09},
{"p":8,"l":2.51,"x":41.78,"y":18.5},{"p":8,"l":2.51,"x":42.13,"y":18.84},{"p":8,"l":2.51,"x":42.18,"y":18.38},{"p":8,"l":2.51,"x":41.99,"y":18.13},{"p":8,"l":2.51,"x":41.83,"y":18.3},
{"p":8,"l":-0.5,"x":40.52,"y":18.34},{"p":8,"l":-0.5,"x":40.63,"y":18.5},{"p":8,"l":-0.5,"x":40.87,"y":18.59},{"p":8,"l":-0.5,"x":41.29,"y":18.42},{"p":8,"l":-0.5,"x":41.85,"y":17.75},{"p":8,"l":-0.5,"x":41.64,"y":17.2},{"p":8,"l":-0.5,"x":41.69,"y":16.79},{"p":8,"l":-0.5,"x":42.27,"y":16.79},{"p":8,"l":-0.5,"x":42.13,"y":16.4},{"p":8,"l":-0.5,"x":42.13,"y":16.03},{"p":8,"l":-0.5,"x":41.43,"y":16.03},{"p":8,"l":-0.5,"x":41.1,"y":17.03},{"p":8,"l":-0.5,"x":40.75,"y":18},
{"p":8,"l":-1.5,"x":40.77,"y":18},{"p":8,"l":-1.5,"x":40.89,"y":18.42},{"p":8,"l":-1.5,"x":41.24,"y":18.34},{"p":8,"l":-1.5,"x":41.71,"y":17.7},{"p":8,"l":-1.5,"x":41.57,"y":16.87},{"p":8,"l":-1.5,"x":42.11,"y":16.57},{"p":8,"l":-1.5,"x":42.01,"y":16.15},{"p":8,"l":-1.5,"x":41.52,"y":16.07},{"p":8,"l":-1.5,"x":41.15,"y":16.95},
{"p":8,"l":-2.5,"x":40.84,"y":18},{"p":8,"l":-2.5,"x":41.03,"y":18.21},{"p":8,"l":-2.5,"x":41.34,"y":18.04},{"p":8,"l":-2.5,"x":41.57,"y":17.54},{"p":8,"l":-2.5,"x":41.55,"y":16.87},{"p":8,"l":-2.5,"x":41.97,"y":16.49},{"p":8,"l":-2.5,"x":41.78,"y":16.15},{"p":8,"l":-2.5,"x":41.48,"y":16.1},{"p":8,"l":-2.5,"x":41.15,"y":17.03},
{"p":8,"l":-3.4,"x":40.96,"y":17.96},{"p":8,"l":-3.4,"x":41.15,"y":18.21},{"p":8,"l":-3.4,"x":41.38,"y":17.88},{"p":8,"l":-3.4,"x":41.48,"y":17.2},{"p":8,"l":-3.4,"x":41.29,"y":17.03},{"p":8,"l":-3.4,"x":41.1,"y":17.37},
{"p":8,"l":-4.2,"x":41.11,"y":17.22},{"p":8,"l":-4.2,"x":41.19,"y":17.3},{"p":8,"l":-4.2,"x":41.26,"y":17.2},{"p":8,"l":-4.2,"x":41.19,"y":17.12},
{"p":8,"l":-3.41,"x":41.38,"y":16.75},{"p":8,"l":-3.41,"x":41.5,"y":16.79},{"p":8,"l":-3.41,"x":41.78,"y":16.41},{"p":8,"l":-3.41,"x":41.59,"y":16.24},
{"p":8,"l":1.52,"x":41.69,"y":17.12},{"p":8,"l":1.52,"x":41.9,"y":17.37},{"p":8,"l":1.52,"x":42.13,"y":17.62},{"p":8,"l":1.52,"x":42.22,"y":17.2},{"p":8,"l":1.52,"x":41.99,"y":16.82},{"p":8,"l":1.52,"x":41.8,"y":16.82},
{"p":8,"l":2.6,"x":41.76,"y":17.03},{"p":8,"l":2.6,"x":41.88,"y":17.2},{"p":8,"l":2.6,"x":42.04,"y":17.2},{"p":8,"l":2.6,"x":42.06,"y":16.99},{"p":8,"l":2.6,"x":41.95,"y":16.88},{"p":8,"l":2.6,"x":41.8,"y":16.9},
{"p":9,"l":1.5,"x":40.17,"y":19.18},{"p":9,"l":1.5,"x":40.74,"y":19.3},{"p":9,"l":1.5,"x":41.39,"y":19.3},{"p":9,"l":1.5,"x":41.53,"y":19.14},{"p":9,"l":1.5,"x":41.25,"y":18.72},{"p":9,"l":1.5,"x":40.69,"y":18.67},{"p":9,"l":1.5,"x":40.17,"y":18.67},
{"p":9,"l":2.5,"x":40.17,"y":19.05},{"p":9,"l":2.5,"x":40.64,"y":19.18},{"p":9,"l":2.5,"x":41.2,"y":19.22},{"p":9,"l":2.5,"x":41.37,"y":19.01},{"p":9,"l":2.5,"x":41.16,"y":18.8},{"p":9,"l":2.5,"x":40.46,"y":18.76},{"p":9,"l":2.5,"x":40.17,"y":18.8},
{"p":9,"l":3.2,"x":40.27,"y":18.97},{"p":9,"l":3.2,"x":40.46,"y":19.09},{"p":9,"l":3.2,"x":40.6,"y":18.97},{"p":9,"l":3.2,"x":40.46,"y":18.84},
{"p":9,"l":3.5,"x":40.83,"y":19.05},{"p":9,"l":3.5,"x":41.06,"y":19.18},{"p":9,"l":3.5,"x":41.25,"y":19.01},{"p":9,"l":3.5,"x":41.06,"y":18.88},
{"p":9,"l":1.4,"x":41.67,"y":18.46},{"p":9,"l":1.4,"x":42.05,"y":19.01},{"p":9,"l":1.4,"x":42.28,"y":18.89},{"p":9,"l":1.4,"x":42.19,"y":18.05},{"p":9,"l":1.4,"x":42,"y":17.8},{"p":9,"l":1.4,"x":42.09,"y":17.46},{"p":9,"l":1.4,"x":42.23,"y":17.04},{"p":9,"l":1.4,"x":42,"y":16.79},{"p":9,"l":1.4,"x":41.63,"y":16.83},{"p":9,"l":1.4,"x":41.6,"y":17.2},{"p":9,"l":1.4,"x":41.95,"y":17.8},{"p":9,"l":1.4,"x":41.86,"y":18.05},
{"p":9,"l":2.51,"x":41.65,"y":17.04},{"p":9,"l":2.51,"x":41.81,"y":17.29},{"p":9,"l":2.51,"x":42,"y":17.37},{"p":9,"l":2.51,"x":42.09,"y":17.12},{"p":9,"l":2.51,"x":41.91,"y":16.82},{"p":9,"l":2.51,"x":41.72,"y":16.82},
{"p":9,"l":3.3,"x":41.79,"y":17.03},{"p":9,"l":3.3,"x":41.88,"y":17.1},{"p":9,"l":3.3,"x":41.95,"y":17.02},{"p":9,"l":3.3,"x":41.86,"y":16.93},
{"p":9,"l":-0.5,"x":40.43,"y":18.38},{"p":9,"l":-0.5,"x":40.69,"y":18.59},{"p":9,"l":-0.5,"x":41.16,"y":18.55},{"p":9,"l":-0.5,"x":41.53,"y":18.09},{"p":9,"l":-0.5,"x":41.65,"y":17.46},{"p":9,"l":-0.5,"x":41.58,"y":16.87},{"p":9,"l":-0.5,"x":42.23,"y":16.74},{"p":9,"l":-0.5,"x":42.09,"y":16.37},{"p":9,"l":-0.5,"x":41.95,"y":16.03},{"p":9,"l":-0.5,"x":41.34,"y":16.03},{"p":9,"l":-0.5,"x":40.92,"y":17.21},{"p":9,"l":-0.5,"x":40.55,"y":18.05},
{"p":9,"l":-1.5,"x":40.74,"y":18.38},{"p":9,"l":-1.5,"x":40.88,"y":18.55},{"p":9,"l":-1.5,"x":41.25,"y":18.25},{"p":9,"l":-1.5,"x":41.58,"y":17.46},{"p":9,"l":-1.5,"x":41.49,"y":16.87},{"p":9,"l":-1.5,"x":42.09,"y":16.53},{"p":9,"l":-1.5,"x":42,"y":16.2},{"p":9,"l":-1.5,"x":41.53,"y":16.07},{"p":9,"l":-1.5,"x":41.16,"y":16.78},{"p":9,"l":-1.5,"x":40.81,"y":17.62},
{"p":9,"l":-2.5,"x":40.81,"y":17.96},{"p":9,"l":-2.5,"x":41,"y":18.25},{"p":9,"l":-2.5,"x":41.39,"y":17.96},{"p":9,"l":-2.5,"x":41.49,"y":17.29},{"p":9,"l":-2.5,"x":41.41,"y":16.83},{"p":9,"l":-2.5,"x":41.93,"y":16.45},{"p":9,"l":-2.5,"x":41.72,"y":16.2},{"p":9,"l":-2.5,"x":41.44,"y":16.15},{"p":9,"l":-2.5,"x":41.16,"y":16.87},
{"p":9,"l":-3.2,"x":40.95,"y":17.92},{"p":9,"l":-3.2,"x":41.13,"y":18.09},{"p":9,"l":-3.2,"x":41.3,"y":17.88},{"p":9,"l":-3.2,"x":41.25,"y":17.62},{"p":9,"l":-3.2,"x":41.06,"y":17.54},
{"p":9,"l":-3.21,"x":41.44,"y":16.75},{"p":9,"l":-3.21,"x":41.53,"y":16.7},{"p":9,"l":-3.21,"x":41.7,"y":16.49},{"p":9,"l":-3.21,"x":41.58,"y":16.41},
{"p":11,"l":-0.75,"x":40.1,"y":19.08},{"p":11,"l":-0.75,"x":40.5,"y":18.8},{"p":11,"l":-0.75,"x":40.94,"y":18.64},{"p":11,"l":-0.75,"x":41.29,"y":18.8},{"p":11,"l":-0.75,"x":41.6,"y":19.43},{"p":11,"l":-0.75,"x":41.7,"y":19.7},{"p":11,"l":-0.75,"x":40.1,"y":19.7},
{"p":11,"l":-1.25,"x":40.1,"y":19.25},{"p":11,"l":-1.25,"x":40.5,"y":19.05},{"p":11,"l":-1.25,"x":40.9,"y":18.97},{"p":11,"l":-1.25,"x":41.37,"y":19.39},{"p":11,"l":-1.25,"x":41.4,"y":19.7},{"p":11,"l":-1.25,"x":40.1,"y":19.7},
{"p":11,"l":-1.75,"x":40.33,"y":19.39},{"p":11,"l":-1.75,"x":40.59,"y":19.22},{"p":11,"l":-1.75,"x":40.9,"y":19.26},{"p":11,"l":-1.75,"x":41.18,"y":19.47},{"p":11,"l":-1.75,"x":41.2,"y":19.7},{"p":11,"l":-1.75,"x":40.3,"y":19.7},
{"p":11,"l":-2.2,"x":40.2,"y":19.4},{"p":11,"l":-2.2,"x":40.5,"y":19.38},{"p":11,"l":-2.2,"x":40.8,"y":19.4},{"p":11,"l":-2.2,"x":41,"y":19.6},{"p":11,"l":-2.2,"x":40.2,"y":19.65},
{"p":11,"l":0.2,"x":41.7,"y":19.7},{"p":11,"l":0.2,"x":41.72,"y":18.95},{"p":11,"l":0.2,"x":41.94,"y":18.55},{"p":11,"l":0.2,"x":42.5,"y":18.3},{"p":11,"l":0.2,"x":42.5,"y":19.7},
{"p":11,"l":0.7,"x":41.85,"y":19.7},{"p":11,"l":0.7,"x":41.87,"y":19.3},{"p":11,"l":0.7,"x":41.98,"y":18.88},{"p":11,"l":0.7,"x":42.5,"y":18.55},{"p":11,"l":0.7,"x":42.5,"y":19.7},
{"p":11,"l":0.21,"x":40.1,"y":18.62},{"p":11,"l":0.21,"x":40.4,"y":18.5},{"p":11,"l":0.21,"x":40.57,"y":18.1},{"p":11,"l":0.21,"x":40.3,"y":17.9},
{"p":11,"l":-0.76,"x":40.6,"y":17.6},{"p":11,"l":-0.76,"x":41.11,"y":17.96},{"p":11,"l":-0.76,"x":41.59,"y":17.87},{"p":11,"l":-0.76,"x":42.5,"y":17.9},{"p":11,"l":-0.76,"x":42.5,"y":15.9},{"p":11,"l":-0.76,"x":40.8,"y":15.9},
{"p":11,"l":-1.26,"x":40.8,"y":17.45},{"p":11,"l":-1.26,"x":41.33,"y":17.24},{"p":11,"l":-1.26,"x":41.81,"y":16.94},{"p":11,"l":-1.26,"x":42.09,"y":16.52},{"p":11,"l":-1.26,"x":42.2,"y":15.9},{"p":11,"l":-1.26,"x":40.8,"y":15.9},
{"p":11,"l":-1.7,"x":41.2,"y":16.45},{"p":11,"l":-1.7,"x":41.68,"y":16.31},{"p":11,"l":-1.7,"x":42.05,"y":16.1},{"p":11,"l":-1.7,"x":42,"y":15.8},{"p":11,"l":-1.7,"x":41.2,"y":15.8},
{"p":12,"l":-0.75,"x":40.1,"y":19.12},{"p":12,"l":-0.75,"x":40.61,"y":18.71},{"p":12,"l":-0.75,"x":41.09,"y":18.84},{"p":12,"l":-0.75,"x":41.57,"y":19.39},{"p":12,"l":-0.75,"x":41.65,"y":19.7},{"p":12,"l":-0.75,"x":40.1,"y":19.7},
{"p":12,"l":-1.25,"x":40.1,"y":19.4},{"p":12,"l":-1.25,"x":40.6,"y":19.05},{"p":12,"l":-1.25,"x":41,"y":18.97},{"p":12,"l":-1.25,"x":41.45,"y":19.39},{"p":12,"l":-1.25,"x":41.5,"y":19.7},{"p":12,"l":-1.25,"x":40.1,"y":19.7},
{"p":12,"l":-1.75,"x":40.1,"y":19.5},{"p":12,"l":-1.75,"x":40.53,"y":19.34},{"p":12,"l":-1.75,"x":40.83,"y":19.26},{"p":12,"l":-1.75,"x":41.13,"y":19.47},{"p":12,"l":-1.75,"x":41.15,"y":19.7},{"p":12,"l":-1.75,"x":40.1,"y":19.7},
{"p":12,"l":0.2,"x":41.85,"y":19.7},{"p":12,"l":0.2,"x":41.77,"y":18.97},{"p":12,"l":0.2,"x":41.96,"y":18.55},{"p":12,"l":0.2,"x":42.5,"y":18.3},{"p":12,"l":0.2,"x":42.5,"y":19.7},
{"p":12,"l":0.7,"x":41.9,"y":19.7},{"p":12,"l":0.7,"x":41.96,"y":19.14},{"p":12,"l":0.7,"x":42.13,"y":18.88},{"p":12,"l":0.7,"x":42.5,"y":18.72},{"p":12,"l":0.7,"x":42.5,"y":19.7},
{"p":12,"l":0.21,"x":40.1,"y":19.05},{"p":12,"l":0.21,"x":40.53,"y":18.71},{"p":12,"l":0.21,"x":40.87,"y":18.46},{"p":12,"l":0.21,"x":40.97,"y":18.21},{"p":12,"l":0.21,"x":40.79,"y":17.79},{"p":12,"l":0.21,"x":40.2,"y":17.7},
{"p":12,"l":0.71,"x":40.1,"y":18.75},{"p":12,"l":0.71,"x":40.3,"y":18.45},{"p":12,"l":0.71,"x":40.5,"y":18.1},{"p":12,"l":0.71,"x":40.1,"y":18},
{"p":12,"l":-0.76,"x":40.7,"y":17.5},{"p":12,"l":-0.76,"x":41.57,"y":17.64},{"p":12,"l":-0.76,"x":42.5,"y":17.8},{"p":12,"l":-0.76,"x":42.5,"y":15.9},{"p":12,"l":-0.76,"x":40.9,"y":15.9},
{"p":12,"l":-1.26,"x":40.95,"y":17.2},{"p":12,"l":-1.26,"x":41.44,"y":16.99},{"p":12,"l":-1.26,"x":41.83,"y":16.6},{"p":12,"l":-1.26,"x":42.1,"y":15.9},{"p":12,"l":-1.26,"x":41,"y":15.9},
{"p":13,"l":-0.75,"x":40.1,"y":19.3},{"p":13,"l":-0.75,"x":40.81,"y":18.92},{"p":13,"l":-0.75,"x":41.46,"y":18.97},{"p":13,"l":-0.75,"x":41.85,"y":19.47},{"p":13,"l":-0.75,"x":41.9,"y":19.7},{"p":13,"l":-0.75,"x":40.1,"y":19.7},
{"p":13,"l":-1.25,"x":40.1,"y":19.45},{"p":13,"l":-1.25,"x":40.81,"y":19.14},{"p":13,"l":-1.25,"x":41.24,"y":19.14},{"p":13,"l":-1.25,"x":41.59,"y":19.39},{"p":13,"l":-1.25,"x":41.65,"y":19.7},{"p":13,"l":-1.25,"x":40.1,"y":19.7},
{"p":13,"l":-1.75,"x":40.2,"y":19.5},{"p":13,"l":-1.75,"x":40.46,"y":19.3},{"p":13,"l":-1.75,"x":40.81,"y":19.22},{"p":13,"l":-1.75,"x":41.16,"y":19.47},{"p":13,"l":-1.75,"x":41.2,"y":19.7},{"p":13,"l":-1.75,"x":40.1,"y":19.7},
{"p":13,"l":-2.2,"x":40.4,"y":19.42},{"p":13,"l":-2.2,"x":40.9,"y":19.38},{"p":13,"l":-2.2,"x":41,"y":19.6},{"p":13,"l":-2.2,"x":40.2,"y":19.6},
{"p":13,"l":0.2,"x":40.1,"y":19.15},{"p":13,"l":0.2,"x":40.63,"y":18.88},{"p":13,"l":0.2,"x":41.16,"y":18.55},{"p":13,"l":0.2,"x":41.35,"y":18.21},{"p":13,"l":0.2,"x":41.2,"y":17.87},{"p":13,"l":0.2,"x":40.74,"y":17.83},{"p":13,"l":0.2,"x":40.3,"y":17.7},
{"p":13,"l":0.7,"x":40.1,"y":19},{"p":13,"l":0.7,"x":40.63,"y":18.63},{"p":13,"l":0.7,"x":40.87,"y":18.25},{"p":13,"l":0.7,"x":40.77,"y":17.83},{"p":13,"l":0.7,"x":40.3,"y":17.8},
{"p":13,"l":1.25,"x":40.1,"y":18.8},{"p":13,"l":1.25,"x":40.5,"y":18.55},{"p":13,"l":1.25,"x":40.66,"y":18.21},{"p":13,"l":1.25,"x":40.68,"y":17.95},{"p":13,"l":1.25,"x":40.3,"y":17.9},
{"p":13,"l":2,"x":40.1,"y":18.6},{"p":13,"l":2,"x":40.37,"y":18.2},{"p":13,"l":2,"x":40.5,"y":18},{"p":13,"l":2,"x":40.1,"y":17.9},
{"p":13,"l":-0.76,"x":40.8,"y":17.4},{"p":13,"l":-0.76,"x":41.42,"y":17.37},{"p":13,"l":-0.76,"x":41.94,"y":16.86},{"p":13,"l":-0.76,"x":42.1,"y":16.1},{"p":13,"l":-0.76,"x":42.1,"y":15.9},{"p":13,"l":-0.76,"x":40.9,"y":15.9},
{"p":13,"l":-1.26,"x":41,"y":17.15},{"p":13,"l":-1.26,"x":41.59,"y":16.86},{"p":13,"l":-1.26,"x":41.87,"y":16.31},{"p":13,"l":-1.26,"x":42,"y":15.9},{"p":13,"l":-1.26,"x":41,"y":15.9},
{"p":13,"l":-1.76,"x":41.15,"y":16.75},{"p":13,"l":-1.76,"x":41.5,"y":16.45},{"p":13,"l":-1.76,"x":41.75,"y":16.1},{"p":13,"l":-1.76,"x":41.7,"y":15.9},{"p":13,"l":-1.76,"x":41.15,"y":15.9},
{"p":13,"l":0.21,"x":42.38,"y":18.9},{"p":13,"l":0.21,"x":42.3,"y":18.45},{"p":13,"l":0.21,"x":42.38,"y":18},{"p":13,"l":0.21,"x":42.6,"y":18.4},
{"p":14,"l":-0.25,"x":40.1,"y":19.2},{"p":14,"l":-0.25,"x":40.59,"y":18.8},{"p":14,"l":-0.25,"x":40.98,"y":18.55},{"p":14,"l":-0.25,"x":41.46,"y":18.76},{"p":14,"l":-0.25,"x":41.98,"y":18.97},{"p":14,"l":-0.25,"x":42.5,"y":18.95},{"p":14,"l":-0.25,"x":42.5,"y":19.7},{"p":14,"l":-0.25,"x":40.1,"y":19.7},
{"p":14,"l":-0.75,"x":40.1,"y":19.4},{"p":14,"l":-0.75,"x":40.5,"y":19.13},{"p":14,"l":-0.75,"x":40.94,"y":19.13},{"p":14,"l":-0.75,"x":41.5,"y":19.47},{"p":14,"l":-0.75,"x":41.55,"y":19.7},{"p":14,"l":-0.75,"x":40.1,"y":19.7},
{"p":14,"l":-1.2,"x":40.2,"y":19.5},{"p":14,"l":-1.2,"x":40.6,"y":19.38},{"p":14,"l":-1.2,"x":40.95,"y":19.47},{"p":14,"l":-1.2,"x":41,"y":19.7},{"p":14,"l":-1.2,"x":40.2,"y":19.7},
{"p":14,"l":0.7,"x":40.1,"y":18.7},{"p":14,"l":0.7,"x":40.3,"y":18.45},{"p":14,"l":0.7,"x":40.4,"y":18.2},{"p":14,"l":0.7,"x":40.1,"y":18.1},
{"p":14,"l":-0.26,"x":40.5,"y":18},{"p":14,"l":-0.26,"x":40.9,"y":18.16},{"p":14,"l":-0.26,"x":41.2,"y":18.04},{"p":14,"l":-0.26,"x":41.5,"y":17.2},{"p":14,"l":-0.26,"x":41.72,"y":16.52},{"p":14,"l":-0.26,"x":42,"y":15.9},{"p":14,"l":-0.26,"x":40.5,"y":15.9},
{"p":14,"l":-0.76,"x":40.6,"y":17.75},{"p":14,"l":-0.76,"x":41.16,"y":17.53},{"p":14,"l":-0.76,"x":41.42,"y":17.03},{"p":14,"l":-0.76,"x":41.63,"y":16.36},{"p":14,"l":-0.76,"x":41.9,"y":15.9},{"p":14,"l":-0.76,"x":40.7,"y":15.9},
{"p":14,"l":-1.25,"x":40.85,"y":17.35},{"p":14,"l":-1.25,"x":41.2,"y":17.07},{"p":14,"l":-1.25,"x":41.55,"y":16.36},{"p":14,"l":-1.25,"x":41.75,"y":15.9},{"p":14,"l":-1.25,"x":40.9,"y":15.9},
{"p":14,"l":0.75,"x":42,"y":16},{"p":14,"l":0.75,"x":41.74,"y":16.77},{"p":14,"l":0.75,"x":41.63,"y":17.45},{"p":14,"l":0.75,"x":41.68,"y":18.04},{"p":14,"l":0.75,"x":42.03,"y":18.42},{"p":14,"l":0.75,"x":42.5,"y":18.65},{"p":14,"l":0.75,"x":42.5,"y":15.9},
{"p":14,"l":1.25,"x":42.05,"y":16},{"p":14,"l":1.25,"x":41.85,"y":16.99},{"p":14,"l":1.25,"x":41.85,"y":17.74},{"p":14,"l":1.25,"x":42.5,"y":18.3},{"p":14,"l":1.25,"x":42.5,"y":15.9},
{"p":14,"l":1.75,"x":42.1,"y":16},{"p":14,"l":1.75,"x":41.96,"y":16.9},{"p":14,"l":1.75,"x":41.98,"y":17.45},{"p":14,"l":1.75,"x":42.5,"y":18},{"p":14,"l":1.75,"x":42.5,"y":15.9},
{"p":14,"l":2.25,"x":42.13,"y":16},{"p":14,"l":2.25,"x":42.11,"y":16.9},{"p":14,"l":2.25,"x":42.5,"y":17.6},{"p":14,"l":2.25,"x":42.5,"y":15.9},
{"p":14,"l":2.75,"x":42.18,"y":16},{"p":14,"l":2.75,"x":42.2,"y":16.95},{"p":14,"l":2.75,"x":42.5,"y":17.4},{"p":14,"l":2.75,"x":42.5,"y":15.9},
{"p":15,"l":-1.25,"x":40.1,"y":19.3},{"p":15,"l":-1.25,"x":40.61,"y":19.05},{"p":15,"l":-1.25,"x":41.13,"y":19.05},{"p":15,"l":-1.25,"x":41.55,"y":19.3},{"p":15,"l":-1.25,"x":41.9,"y":19.4},{"p":15,"l":-1.25,"x":41.95,"y":19.7},{"p":15,"l":-1.25,"x":40.1,"y":19.7},
{"p":15,"l":-1.75,"x":40.1,"y":19.55},{"p":15,"l":-1.75,"x":40.53,"y":19.34},{"p":15,"l":-1.75,"x":40.83,"y":19.3},{"p":15,"l":-1.75,"x":41.1,"y":19.6},{"p":15,"l":-1.75,"x":41.1,"y":19.7},{"p":15,"l":-1.75,"x":40.1,"y":19.7},
{"p":15,"l":-0.25,"x":40.1,"y":19.1},{"p":15,"l":-0.25,"x":40.61,"y":18.72},{"p":15,"l":-0.25,"x":40.83,"y":18.42},{"p":15,"l":-0.25,"x":40.63,"y":18.13},{"p":15,"l":-0.25,"x":40.2,"y":18},
{"p":15,"l":-0.26,"x":41.18,"y":18.33},{"p":15,"l":-0.26,"x":41.48,"y":18.76},{"p":15,"l":-0.26,"x":41.87,"y":19.35},{"p":15,"l":-0.26,"x":42.5,"y":19.7},{"p":15,"l":-0.26,"x":42.5,"y":15.9},{"p":15,"l":-0.26,"x":42.05,"y":16.18},{"p":15,"l":-0.26,"x":41.7,"y":17.28},{"p":15,"l":-0.26,"x":41.31,"y":17.96},
{"p":15,"l":0.25,"x":42.5,"y":19.2},{"p":15,"l":0.25,"x":42,"y":18.55},{"p":15,"l":0.25,"x":41.79,"y":18.04},{"p":15,"l":0.25,"x":41.83,"y":17.45},{"p":15,"l":0.25,"x":42.11,"y":16.1},{"p":15,"l":0.25,"x":42.5,"y":15.9},
{"p":15,"l":0.75,"x":42.5,"y":18.5},{"p":15,"l":0.75,"x":42.11,"y":18.12},{"p":15,"l":0.75,"x":42.03,"y":17.45},{"p":15,"l":0.75,"x":42.18,"y":16.1},{"p":15,"l":0.75,"x":42.5,"y":15.9},
{"p":15,"l":1.2,"x":42.5,"y":17.8},{"p":15,"l":1.2,"x":42.32,"y":17.54},{"p":15,"l":1.2,"x":42.27,"y":16.77},{"p":15,"l":1.2,"x":42.23,"y":16.1},{"p":15,"l":1.2,"x":42.5,"y":15.9},
{"p":15,"l":-1.26,"x":40.6,"y":17.7},{"p":15,"l":-1.26,"x":41.13,"y":17.49},{"p":15,"l":-1.26,"x":41.61,"y":16.86},{"p":15,"l":-1.26,"x":42.02,"y":16},{"p":15,"l":-1.26,"x":41,"y":15.9},
{"p":15,"l":-1.76,"x":40.85,"y":17.35},{"p":15,"l":-1.76,"x":41.22,"y":17.03},{"p":15,"l":-1.76,"x":41.66,"y":16.4},{"p":15,"l":-1.76,"x":41.95,"y":15.9},{"p":15,"l":-1.76,"x":41,"y":15.9},
{"p":15,"l":-2.3,"x":41.2,"y":16.94},{"p":15,"l":-2.3,"x":41.5,"y":16.52},{"p":15,"l":-2.3,"x":41.81,"y":16.18},{"p":15,"l":-2.3,"x":41.9,"y":15.9},{"p":15,"l":-2.3,"x":41.25,"y":15.9},
{"p":16,"l":-1.25,"x":40.1,"y":19.4},{"p":16,"l":-1.25,"x":40.59,"y":19.09},{"p":16,"l":-1.25,"x":41.16,"y":19},{"p":16,"l":-1.25,"x":41.77,"y":19.47},{"p":16,"l":-1.25,"x":41.8,"y":19.7},{"p":16,"l":-1.25,"x":40.1,"y":19.7},
{"p":16,"l":-1.75,"x":40.2,"y":19.6},{"p":16,"l":-1.75,"x":40.3,"y":19.38},{"p":16,"l":-1.75,"x":40.66,"y":19.3},{"p":16,"l":-1.75,"x":41,"y":19.5},{"p":16,"l":-1.75,"x":41,"y":19.7},{"p":16,"l":-1.75,"x":40.2,"y":19.7},
{"p":16,"l":-0.25,"x":40.1,"y":19.1},{"p":16,"l":-0.25,"x":40.5,"y":18.76},{"p":16,"l":-0.25,"x":40.68,"y":18.38},{"p":16,"l":-0.25,"x":40.66,"y":18.1},{"p":16,"l":-0.25,"x":40.2,"y":18},
{"p":16,"l":-0.26,"x":41.85,"y":19.7},{"p":16,"l":-0.26,"x":41.44,"y":18.55},{"p":16,"l":-0.26,"x":41.48,"y":18.21},{"p":16,"l":-0.26,"x":41.77,"y":17.79},{"p":16,"l":-0.26,"x":42.07,"y":16.86},{"p":16,"l":-0.26,"x":42.2,"y":15.9},{"p":16,"l":-0.26,"x":42.5,"y":15.9},{"p":16,"l":-0.26,"x":42.5,"y":19.7},
{"p":16,"l":0.25,"x":41.85,"y":19.7},{"p":16,"l":0.25,"x":41.98,"y":18.72},{"p":16,"l":0.25,"x":42.28,"y":18.1},{"p":16,"l":0.25,"x":42.5,"y":17.8},{"p":16,"l":0.25,"x":42.5,"y":19.7},
{"p":16,"l":-1.26,"x":40.65,"y":17.65},{"p":16,"l":-1.26,"x":41.24,"y":17.45},{"p":16,"l":-1.26,"x":41.68,"y":16.86},{"p":16,"l":-1.26,"x":42.05,"y":15.9},{"p":16,"l":-1.26,"x":41,"y":15.9},
{"p":16,"l":-1.76,"x":40.95,"y":17.25},{"p":16,"l":-1.76,"x":41.42,"y":16.94},{"p":16,"l":-1.76,"x":41.9,"y":16.31},{"p":16,"l":-1.76,"x":42.05,"y":15.9},{"p":16,"l":-1.76,"x":41.1,"y":15.9},
{"p":16,"l":-2.2,"x":41.3,"y":16.4},{"p":16,"l":-2.2,"x":41.68,"y":16.27},{"p":16,"l":-2.2,"x":42,"y":16.12},{"p":16,"l":-2.2,"x":42,"y":15.9},{"p":16,"l":-2.2,"x":41.35,"y":15.9},
{"p":17,"l":1.75,"x":40.1,"y":19.3},{"p":17,"l":1.75,"x":41.08,"y":18.34},{"p":17,"l":1.75,"x":41.35,"y":18.3},{"p":17,"l":1.75,"x":41.67,"y":18.5},{"p":17,"l":1.75,"x":42.16,"y":18.88},{"p":17,"l":1.75,"x":42.5,"y":19.1},{"p":17,"l":1.75,"x":42.5,"y":19.7},{"p":17,"l":1.75,"x":40.1,"y":19.7},
{"p":17,"l":2.25,"x":40.1,"y":19.5},{"p":17,"l":2.25,"x":40.8,"y":18.9},{"p":17,"l":2.25,"x":41.21,"y":18.76},{"p":17,"l":2.25,"x":41.63,"y":18.84},{"p":17,"l":2.25,"x":42.04,"y":19.1},{"p":17,"l":2.25,"x":42.5,"y":19.3},{"p":17,"l":2.25,"x":42.5,"y":19.7},{"p":17,"l":2.25,"x":40.1,"y":19.7},
{"p":17,"l":2.75,"x":40.2,"y":19.6},{"p":17,"l":2.75,"x":40.89,"y":19.05},{"p":17,"l":2.75,"x":41.31,"y":19},{"p":17,"l":2.75,"x":41.95,"y":19.22},{"p":17,"l":2.75,"x":42.4,"y":19.5},{"p":17,"l":2.75,"x":42.4,"y":19.7},{"p":17,"l":2.75,"x":40.2,"y":19.7},
{"p":17,"l":3.25,"x":40.3,"y":19.6},{"p":17,"l":3.25,"x":40.8,"y":19.22},{"p":17,"l":3.25,"x":41.26,"y":19.26},{"p":17,"l":3.25,"x":41.81,"y":19.39},{"p":17,"l":3.25,"x":42,"y":19.7},{"p":17,"l":3.25,"x":40.3,"y":19.7},
{"p":17,"l":3.75,"x":40.5,"y":19.55},{"p":17,"l":3.75,"x":40.94,"y":19.35},{"p":17,"l":3.75,"x":41.49,"y":19.47},{"p":17,"l":3.75,"x":41.6,"y":19.7},{"p":17,"l":3.75,"x":40.5,"y":19.7},
{"p":17,"l":0.75,"x":40.1,"y":19.2},{"p":17,"l":0.75,"x":40.55,"y":18.55},{"p":17,"l":0.75,"x":40.6,"y":18.3},{"p":17,"l":0.75,"x":40.55,"y":18.05},{"p":17,"l":0.75,"x":40.1,"y":18},
{"p":17,"l":0.25,"x":40.1,"y":19},{"p":17,"l":0.25,"x":40.3,"y":18.65},{"p":17,"l":0.25,"x":40.36,"y":18.35},{"p":17,"l":0.25,"x":40.1,"y":18.2},
{"p":17,"l":0.76,"x":42.5,"y":19},{"p":17,"l":0.76,"x":41.95,"y":18.38},{"p":17,"l":0.76,"x":41.86,"y":17.88},{"p":17,"l":0.76,"x":42,"y":17.04},{"p":17,"l":0.76,"x":42.2,"y":16},{"p":17,"l":0.76,"x":42.5,"y":15.9},
{"p":17,"l":0.26,"x":42.5,"y":18.7},{"p":17,"l":0.26,"x":42.23,"y":18},{"p":17,"l":0.26,"x":42.3,"y":17.15},{"p":17,"l":0.26,"x":42.5,"y":16.8},
{"p":17,"l":1.76,"x":40.5,"y":17.9},{"p":17,"l":1.76,"x":41.17,"y":17.92},{"p":17,"l":1.76,"x":41.63,"y":17.2},{"p":17,"l":1.76,"x":42.25,"y":16.3},{"p":17,"l":1.76,"x":42.3,"y":15.9},{"p":17,"l":1.76,"x":40.7,"y":15.9},
{"p":17,"l":2.26,"x":40.8,"y":17.45},{"p":17,"l":2.26,"x":41.26,"y":17.12},{"p":17,"l":2.26,"x":41.77,"y":16.43},{"p":17,"l":2.26,"x":42.12,"y":15.95},{"p":17,"l":2.26,"x":41,"y":15.9},
{"p":17,"l":2.7,"x":41.1,"y":16.9},{"p":17,"l":2.7,"x":41.44,"y":16.57},{"p":17,"l":2.7,"x":42,"y":16.18},{"p":17,"l":2.7,"x":42,"y":15.9},{"p":17,"l":2.7,"x":41.2,"y":15.9},
{"p":18,"l":1.7,"x":40.4,"y":19.6},{"p":18,"l":1.7,"x":41.21,"y":19.01},{"p":18,"l":1.7,"x":41.91,"y":19.26},{"p":18,"l":1.7,"x":42.1,"y":19.6},{"p":18,"l":1.7,"x":42,"y":19.8},{"p":18,"l":1.7,"x":40.4,"y":19.8},
{"p":18,"l":2.2,"x":41.3,"y":19.5},{"p":18,"l":2.2,"x":41.45,"y":19.39},{"p":18,"l":2.2,"x":41.55,"y":19.5},{"p":18,"l":2.2,"x":41.45,"y":19.7},
{"p":18,"l":0.9,"x":40.3,"y":19.6},{"p":18,"l":0.9,"x":40.41,"y":18.8},{"p":18,"l":0.9,"x":40.33,"y":18.45},{"p":18,"l":0.9,"x":40.1,"y":18.4},{"p":18,"l":0.9,"x":40.1,"y":19.6},
{"p":18,"l":0.91,"x":42.4,"y":19.05},{"p":18,"l":0.91,"x":42.07,"y":18.63},{"p":18,"l":0.91,"x":42.23,"y":18.25},{"p":18,"l":0.91,"x":42.5,"y":18.2},
{"p":18,"l":0.95,"x":40.55,"y":17.85},{"p":18,"l":0.95,"x":40.75,"y":17.84},{"p":18,"l":0.95,"x":41.05,"y":17.2},{"p":18,"l":0.95,"x":40.9,"y":17},{"p":18,"l":0.95,"x":40.5,"y":17.5},
{"p":18,"l":1.75,"x":41.2,"y":16},{"p":18,"l":1.75,"x":41.31,"y":16.49},{"p":18,"l":1.75,"x":41.49,"y":17.12},{"p":18,"l":1.75,"x":42.04,"y":17.7},{"p":18,"l":1.75,"x":42.5,"y":17.75},{"p":18,"l":1.75,"x":42.5,"y":15.9},
{"p":18,"l":2.25,"x":41.68,"y":15.9},{"p":18,"l":2.25,"x":41.72,"y":16.69},{"p":18,"l":2.25,"x":42,"y":17.2},{"p":18,"l":2.25,"x":42.5,"y":17.45},{"p":18,"l":2.25,"x":42.5,"y":15.9},
{"p":18,"l":2.7,"x":42.12,"y":15.9},{"p":18,"l":2.7,"x":42.27,"y":16.52},{"p":18,"l":2.7,"x":42.5,"y":16.75},{"p":18,"l":2.7,"x":42.5,"y":15.9},
{"p":19,"l":0.25,"x":40.1,"y":19.15},{"p":19,"l":0.25,"x":40.76,"y":18.92},{"p":19,"l":0.25,"x":41.22,"y":19.05},{"p":19,"l":0.25,"x":41.34,"y":19.49},{"p":19,"l":0.25,"x":41.4,"y":19.7},{"p":19,"l":0.25,"x":40.1,"y":19.7},
{"p":19,"l":-0.25,"x":40.1,"y":19.5},{"p":19,"l":-0.25,"x":40.49,"y":19.26},{"p":19,"l":-0.25,"x":40.81,"y":19.43},{"p":19,"l":-0.25,"x":40.85,"y":19.7},{"p":19,"l":-0.25,"x":40.1,"y":19.7},
{"p":19,"l":1.2,"x":40.1,"y":18.8},{"p":19,"l":1.2,"x":40.3,"y":18.75},{"p":19,"l":1.2,"x":40.46,"y":18.4},{"p":19,"l":1.2,"x":40.46,"y":18.2},{"p":19,"l":1.2,"x":40.1,"y":18.1},
{"p":19,"l":0.26,"x":42.1,"y":19.2},{"p":19,"l":0.26,"x":42.33,"y":18.75},{"p":19,"l":0.26,"x":42.6,"y":18.7},{"p":19,"l":0.26,"x":42.5,"y":19.4},
{"p":19,"l":0.27,"x":40.55,"y":17.95},{"p":19,"l":0.27,"x":41.08,"y":17.7},{"p":19,"l":0.27,"x":41.32,"y":17.25},{"p":19,"l":0.27,"x":41.55,"y":16},{"p":19,"l":0.27,"x":40.8,"y":15.9},
{"p":19,"l":-0.26,"x":40.7,"y":17.55},{"p":19,"l":-0.26,"x":41.13,"y":17.2},{"p":19,"l":-0.26,"x":41.25,"y":16.7},{"p":19,"l":-0.26,"x":41.3,"y":16.4},{"p":19,"l":-0.26,"x":40.9,"y":16.4},
{"p":19,"l":1.25,"x":41.65,"y":15.9},{"p":19,"l":1.25,"x":41.52,"y":17.62},{"p":19,"l":1.25,"x":41.78,"y":18.3},{"p":19,"l":1.25,"x":42.28,"y":18.42},{"p":19,"l":1.25,"x":42.6,"y":18.4},{"p":19,"l":1.25,"x":42.6,"y":15.9},
{"p":19,"l":1.75,"x":41.85,"y":15.9},{"p":19,"l":1.75,"x":41.73,"y":17.13},{"p":19,"l":1.75,"x":41.96,"y":17.75},{"p":19,"l":1.75,"x":42.33,"y":18.04},{"p":19,"l":1.75,"x":42.6,"y":18.1},{"p":19,"l":1.75,"x":42.6,"y":15.9},
{"p":19,"l":2.25,"x":41.92,"y":15.9},{"p":19,"l":2.25,"x":41.87,"y":16.96},{"p":19,"l":2.25,"x":42.1,"y":17.55},{"p":19,"l":2.25,"x":42.33,"y":17.75},{"p":19,"l":2.25,"x":42.6,"y":17.8},{"p":19,"l":2.25,"x":42.6,"y":15.9},
{"p":19,"l":2.75,"x":42,"y":15.9},{"p":19,"l":2.75,"x":41.98,"y":16.7},{"p":19,"l":2.75,"x":42.19,"y":17.29},{"p":19,"l":2.75,"x":42.33,"y":17.47},{"p":19,"l":2.75,"x":42.6,"y":17.5},{"p":19,"l":2.75,"x":42.6,"y":15.9},
{"p":19,"l":3.25,"x":42.07,"y":15.9},{"p":19,"l":3.25,"x":42.1,"y":16.8},{"p":19,"l":3.25,"x":42.33,"y":17.12},{"p":19,"l":3.25,"x":42.6,"y":17.2},{"p":19,"l":3.25,"x":42.6,"y":15.9},
{"p":19,"l":3.75,"x":42.17,"y":15.9},{"p":19,"l":3.75,"x":42.33,"y":16.8},{"p":19,"l":3.75,"x":42.6,"y":16.9},{"p":19,"l":3.75,"x":42.6,"y":15.9},
{"p":1,"c":"0","x":40.3,"y":19.28},{"p":1,"c":"1","x":41.02,"y":19.26},{"p":1,"c":"2","x":40.8,"y":19},{"p":1,"c":"2","x":41.43,"y":18.92},{"p":1,"c":"-2","x":40.78,"y":18.5},{"p":1,"c":"-1","x":41.13,"y":18.47},{"p":1,"c":"-3","x":40.97,"y":17.78},{"p":1,"c":"0","x":41.56,"y":18.48},{"p":1,"c":"2","x":41.88,"y":17.66},{"p":1,"c":"3","x":41.68,"y":17.45},{"p":1,"c":"4","x":41.75,"y":16.95},{"p":1,"c":"-1","x":41.75,"y":16.35},{"p":1,"c":"1","x":42.2,"y":18.77},
{"p":2,"c":"0","x":40.38,"y":19.05},{"p":2,"c":"2","x":40.78,"y":19},{"p":2,"c":"0","x":41.48,"y":19.14},{"p":2,"c":"-1","x":41.68,"y":19.13},{"p":2,"c":"1","x":41.5,"y":18.62},{"p":2,"c":"0","x":41.83,"y":18.64},{"p":2,"c":"-3","x":40.83,"y":18.5},{"p":2,"c":"-3","x":41,"y":17.88},{"p":2,"c":"0","x":41.9,"y":18.12},{"p":2,"c":"2","x":41.8,"y":17.72},{"p":2,"c":"4","x":41.65,"y":17.39},{"p":2,"c":"0","x":41.23,"y":16.94},{"p":2,"c":"-1","x":41.5,"y":16.42},
{"p":3,"c":"1","x":40.8,"y":19.22},{"p":3,"c":"0","x":41.28,"y":19.15},{"p":3,"c":"-1","x":41.65,"y":19.12},{"p":3,"c":"1","x":41.32,"y":18.62},{"p":3,"c":"0","x":41.86,"y":18.08},{"p":3,"c":"-3","x":40.82,"y":18.5},{"p":3,"c":"-2","x":41.1,"y":18.25},{"p":3,"c":"-4","x":41.03,"y":17.96},{"p":3,"c":"5","x":41.7,"y":17.35},{"p":3,"c":"3","x":42.1,"y":17.5},{"p":3,"c":"-1","x":41.38,"y":16.65},{"p":3,"c":"0","x":41.8,"y":16.5},
{"p":4,"c":"0","x":41,"y":19.42},{"p":4,"c":"1","x":40.62,"y":19.22},{"p":4,"c":"0","x":41.8,"y":19.1},{"p":4,"c":"1","x":42.1,"y":18.97},{"p":4,"c":"2","x":41.1,"y":18.8},{"p":4,"c":"-1","x":40.87,"y":18.53},{"p":4,"c":"-2","x":41,"y":18.25},{"p":4,"c":"-3","x":41.05,"y":17.8},{"p":4,"c":"2","x":41.9,"y":17.45},{"p":4,"c":"3","x":41.72,"y":17},{"p":4,"c":"0","x":41.8,"y":16.7},{"p":4,"c":"-2","x":41.58,"y":16.2},
{"p":5,"c":"1","x":41.05,"y":19.3},{"p":5,"c":"0","x":41.65,"y":19.1},{"p":5,"c":"1","x":42.15,"y":19},{"p":5,"c":"2","x":40.66,"y":18.85},{"p":5,"c":"-2","x":40.84,"y":18.5},{"p":5,"c":"-3","x":41.07,"y":17.8},{"p":5,"c":"2","x":41.95,"y":17.55},{"p":5,"c":"3","x":41.72,"y":17.22},{"p":5,"c":"0","x":42.17,"y":16.68},{"p":5,"c":"-2","x":41.62,"y":16.32},{"p":5,"c":"-1","x":41.9,"y":16.2},
{"p":6,"c":"2","x":41,"y":19.13},{"p":6,"c":"0","x":41.65,"y":19.1},{"p":6,"c":"1","x":40.55,"y":18.78},{"p":6,"c":"1","x":42.1,"y":18.78},{"p":6,"c":"-2","x":40.87,"y":18.5},{"p":6,"c":"-3","x":41.03,"y":18.03},{"p":6,"c":"1","x":41.87,"y":17.88},{"p":6,"c":"-1","x":41,"y":17.62},{"p":6,"c":"3","x":41.72,"y":17.4},{"p":6,"c":"-2","x":41.4,"y":16.68},{"p":6,"c":"0","x":42.05,"y":16.65},{"p":6,"c":"-1","x":41.65,"y":16.2},
{"p":7,"c":"0","x":41.1,"y":19.4},{"p":7,"c":"1","x":41.32,"y":19.35},{"p":7,"c":"1","x":41,"y":18.8},{"p":7,"c":"0","x":41.15,"y":18.62},{"p":7,"c":"1","x":42.02,"y":19},{"p":7,"c":"2","x":42.02,"y":18.13},{"p":7,"c":"-3","x":41.2,"y":18},{"p":7,"c":"-4","x":41.3,"y":17.15},{"p":7,"c":"2","x":41.8,"y":17.1},{"p":7,"c":"1","x":42.05,"y":17.45},{"p":7,"c":"-4","x":41.53,"y":16.5},{"p":7,"c":"-1","x":41.86,"y":16.55},
{"p":8,"c":"0","x":41.1,"y":19.4},{"p":8,"c":"2","x":40.47,"y":19.22},{"p":8,"c":"1","x":40.72,"y":19.25},{"p":8,"c":"0","x":40.85,"y":18.6},{"p":8,"c":"1","x":42,"y":19},{"p":8,"c":"2","x":41.95,"y":18.15},{"p":8,"c":"-3","x":41.15,"y":18},{"p":8,"c":"-1","x":41.35,"y":18.3},{"p":8,"c":"2","x":41.8,"y":17.1},{"p":8,"c":"-3","x":41.64,"y":16.25},{"p":8,"c":"-2","x":41.83,"y":16.25},
{"p":9,"c":"0","x":41.1,"y":19.4},{"p":9,"c":"-1","x":40.32,"y":19.25},{"p":9,"c":"3","x":40.99,"y":19.08},{"p":9,"c":"2","x":40.4,"y":18.72},{"p":9,"c":"1","x":41.2,"y":18.67},{"p":9,"c":"-1","x":40.88,"y":18.53},{"p":9,"c":"-3","x":41.13,"y":17.99},{"p":9,"c":"1","x":42.12,"y":19},{"p":9,"c":"-3","x":41.25,"y":17.2},{"p":9,"c":"2","x":41.88,"y":17.3},{"p":9,"c":"-3","x":41.48,"y":16.6},{"p":9,"c":"-2","x":41.72,"y":16.2},
{"p":11,"c":"-1.5","x":40.62,"y":19.22},{"p":11,"c":"-1","x":41,"y":19.03},{"p":11,"c":"-0.5","x":40.6,"y":18.72},{"p":11,"c":"0","x":40.3,"y":18.52},{"p":11,"c":"0.5","x":42.02,"y":18.75},{"p":11,"c":"0","x":42.25,"y":18.38},{"p":11,"c":"-0.5","x":42.13,"y":17.9},{"p":11,"c":"-1","x":41,"y":17.35},{"p":11,"c":"-1.5","x":41.5,"y":16.33},
{"p":12,"c":"-2","x":40.6,"y":19.38},{"p":12,"c":"-1.5","x":40.94,"y":19.32},{"p":12,"c":"-0.5","x":41.08,"y":18.83},{"p":12,"c":"0","x":40.58,"y":18.67},{"p":12,"c":"0.5","x":42,"y":18.9},{"p":12,"c":"0","x":42.2,"y":18.38},{"p":12,"c":"-0.5","x":41.55,"y":17.65},{"p":12,"c":"-1","x":41.2,"y":17.05},
{"p":13,"c":"-2","x":40.62,"y":19.4},{"p":13,"c":"-1.5","x":41,"y":19.33},{"p":13,"c":"-1","x":41.45,"y":19.17},{"p":13,"c":"-0.5","x":41.7,"y":19},{"p":13,"c":"0.5","x":40.45,"y":18.85},{"p":13,"c":"1","x":40.55,"y":18.55},{"p":13,"c":"0","x":40.9,"y":17.66},{"p":13,"c":"-0.5","x":41.12,"y":17.35},{"p":13,"c":"-1.5","x":41.3,"y":16.62},{"p":13,"c":"-1","x":41.8,"y":16.33},
{"p":14,"c":"-1","x":40.6,"y":19.37},{"p":14,"c":"-0.5","x":40.93,"y":19.1},{"p":14,"c":"0","x":42.01,"y":18.97},{"p":14,"c":"0.5","x":42.13,"y":18.5},{"p":14,"c":"0.5","x":40.33,"y":18.45},{"p":14,"c":"0","x":40.9,"y":18.16},{"p":14,"c":"1","x":42,"y":17.95},{"p":14,"c":"1.5","x":42.06,"y":17.4},{"p":14,"c":"-1","x":40.98,"y":17.35},{"p":14,"c":"2.5","x":42.23,"y":17},{"p":14,"c":"2","x":42.12,"y":16.4},{"p":14,"c":"-0.5","x":41.6,"y":16.3},
{"p":15,"c":"-1.5","x":40.68,"y":19.33},{"p":15,"c":"-1","x":41.05,"y":19.07},{"p":15,"c":"-0.5","x":40.55,"y":18.7},{"p":15,"c":"-0.5","x":41.3,"y":18.55},{"p":15,"c":"0","x":42.13,"y":18.8},{"p":15,"c":"0.5","x":42.22,"y":18.12},{"p":15,"c":"-1","x":40.87,"y":17.64},{"p":15,"c":"-1.5","x":41.05,"y":17.22},{"p":15,"c":"-2","x":41.8,"y":16.28},{"p":15,"c":"1","x":42.3,"y":17.4},
{"p":16,"c":"-1.5","x":40.7,"y":19.33},{"p":16,"c":"-1","x":41.05,"y":19.04},{"p":16,"c":"-0.5","x":40.48,"y":18.7},{"p":16,"c":"-0.5","x":41.55,"y":18.02},{"p":16,"c":"0","x":42.25,"y":18.2},{"p":16,"c":"-1","x":41,"y":17.62},{"p":16,"c":"-1.5","x":41.25,"y":17.05},{"p":16,"c":"-2","x":41.8,"y":16.25},
{"p":17,"c":"3.5","x":41.35,"y":19.42},{"p":17,"c":"3","x":40.78,"y":19.22},{"p":17,"c":"2.5","x":41,"y":19.03},{"p":17,"c":"2","x":41.2,"y":18.75},{"p":17,"c":"1.5","x":41.12,"y":18.33},{"p":17,"c":"0.5","x":40.3,"y":18.6},{"p":17,"c":"1","x":40.54,"y":18.45},{"p":17,"c":"1","x":42.2,"y":18.78},{"p":17,"c":"1.5","x":40.9,"y":17.9},{"p":17,"c":"2","x":40.95,"y":17.35},{"p":17,"c":"0.5","x":42.27,"y":17.25},{"p":17,"c":"2.5","x":41.7,"y":16.3},
{"p":18,"c":"2","x":41.45,"y":19.4},{"p":18,"c":"1.5","x":41.33,"y":18.98},{"p":18,"c":"1","x":40.35,"y":18.55},{"p":18,"c":"1","x":42.32,"y":18.25},{"p":18,"c":"1.5","x":42.25,"y":17.73},{"p":18,"c":"2","x":41.92,"y":17.22},{"p":18,"c":"1","x":40.83,"y":17.6},{"p":18,"c":"2.5","x":41.95,"y":16.38},
{"p":19,"c":"0","x":40.47,"y":19.27},{"p":19,"c":"0.5","x":40.82,"y":18.92},{"p":19,"c":"1","x":40.3,"y":18.55},{"p":19,"c":"0.5","x":42.12,"y":18.95},{"p":19,"c":"1","x":42.15,"y":18.42},{"p":19,"c":"1.5","x":41.98,"y":17.9},{"p":19,"c":"0.5","x":41.2,"y":17.55},{"p":19,"c":"0","x":40.9,"y":17.42},{"p":19,"c":"2","x":41.98,"y":17.45},{"p":19,"c":"2.5","x":41.99,"y":16.45},
{"p":1,"t":"2015","x":41.3,"y":19.97},{"p":2,"t":"2018","x":41.3,"y":19.97},{"p":3,"t":"2021","x":41.3,"y":19.97},{"p":8,"t":"1999","x":41.3,"y":15.57},{"p":9,"t":"2002","x":41.3,"y":15.57},{"p":2,"t":"year →","x":41.25,"y":20.73},{"p":8,"t":"year →","x":42.35,"y":14.92},
{"p":11,"t":"2015","x":41.3,"y":19.97},{"p":12,"t":"2018","x":41.3,"y":19.97},{"p":13,"t":"2021","x":41.3,"y":19.97},{"p":18,"t":"1999","x":41.3,"y":15.57},{"p":19,"t":"2002","x":41.27,"y":15.57},{"p":12,"t":"year →","x":41.16,"y":20.73},{"p":18,"t":"year →","x":42.33,"y":14.97},
{"p":4,"q":"te(x,y,year,42.32)","x":39.87,"y":19.36},{"p":14,"q":"te(x,y,year,22.49)","x":39.87,"y":19.36},
{"p":7,"x":40.5,"x2":42,"y":16.08,"y2":16.08},{"p":7,"x":40.5,"x2":40.5,"y":16.08,"y2":15.83},{"p":7,"x":41,"x2":41,"y":16.08,"y2":15.83},{"p":7,"x":41.5,"x2":41.5,"y":16.08,"y2":15.83},{"p":7,"x":42,"x2":42,"y":16.08,"y2":15.83},
{"p":7,"x":40.2,"x2":40.2,"y":17,"y2":19},{"p":7,"x":40.2,"x2":40.07,"y":17,"y2":17},{"p":7,"x":40.2,"x2":40.07,"y":18,"y2":18},{"p":7,"x":40.2,"x2":40.07,"y":19,"y2":19},
{"p":7,"a":"40.5","x":40.5,"y":15.3},{"p":7,"a":"41","x":41,"y":15.3},{"p":7,"a":"41.5","x":41.5,"y":15.3},{"p":7,"a":"42","x":42,"y":15.3},{"p":7,"a":"y","x":41.27,"y":14.83},
{"p":7,"r":"17","x":39.87,"y":17},{"p":7,"r":"18","x":39.87,"y":18},{"p":7,"r":"19","x":39.87,"y":19},{"p":7,"r":"x","x":39.67,"y":18},
{"p":17,"x":40.53,"x2":42.07,"y":16.08,"y2":16.08},{"p":17,"x":40.53,"x2":40.53,"y":16.08,"y2":15.83},{"p":17,"x":41.04,"x2":41.04,"y":16.08,"y2":15.83},{"p":17,"x":41.56,"x2":41.56,"y":16.08,"y2":15.83},{"p":17,"x":42.07,"x2":42.07,"y":16.08,"y2":15.83},
{"p":17,"x":40.2,"x2":40.2,"y":17,"y2":19},{"p":17,"x":40.2,"x2":40.07,"y":17,"y2":17},{"p":17,"x":40.2,"x2":40.07,"y":18,"y2":18},{"p":17,"x":40.2,"x2":40.07,"y":19,"y2":19},
{"p":17,"a":"40.5","x":40.53,"y":15.3},{"p":17,"a":"41","x":41.04,"y":15.3},{"p":17,"a":"41.5","x":41.56,"y":15.3},{"p":17,"a":"42","x":42.07,"y":15.3},{"p":17,"a":"y","x":41.33,"y":14.83},
{"p":17,"r":"17","x":39.87,"y":17},{"p":17,"r":"18","x":39.87,"y":18},{"p":17,"r":"19","x":39.87,"y":19},{"p":17,"r":"x","x":39.67,"y":18}
]},
"hconcat":[
{"data":{"name":"d"},"bounds":"flush","transform":[{"filter":"datum.p<10"},{"calculate":"floor(((datum.p-1)%10)/3)","as":"ro"},{"calculate":"((datum.p-1)%10)%3","as":"co"}],"facet":{"row":{"field":"ro","type":"ordinal","header":null},"column":{"field":"co","type":"ordinal","header":null}},"spacing":{"row":3,"column":4},"spec":{"width":169,"height":134,"layer":[
{"transform":[{"filter":"!isValid(datum.x)&&isValid(datum.l)"}],"mark":{"type":"rect","opacity":1},"encoding":{"fill":{"field":"l","type":"quantitative","legend":null,"scale":{"domain":[-4.5,-3.5,-2.5,-1.5,-0.5,0.5,1.5,2.5,3.5,4.5,5.6],"range":["#dc2a14","#e4341a","#ee4d1a","#f36a1c","#f78a1c","#faa51e","#fcc61e","#fee524","#fff450","#ffff9c","#fffde6"]}}}},
{"encoding":{"x":{"field":"x","type":"quantitative","scale":{"domain":[40.2,42.39]}},"y":{"field":"y","type":"quantitative","scale":{"domain":[16.08,19.49]}}},"layer":[
{"transform":[{"filter":"isValid(datum.x)&&isValid(datum.l)"}],"mark":{"type":"line","interpolate":"cardinal-closed","stroke":"#222","strokeWidth":1,"clip":true,"opacity":1},"encoding":{"fill":{"field":"l","type":"quantitative","legend":null,"scale":{"domain":[-4.5,-3.5,-2.5,-1.5,-0.5,0.5,1.5,2.5,3.5,4.5,5.6],"range":["#dc2a14","#e4341a","#ee4d1a","#f36a1c","#f78a1c","#faa51e","#fcc61e","#fee524","#fff450","#ffff9c","#fffde6"]}},"order":{"value":null}}},
{"data":{"name":"mask"},"mark":{"type":"line","interpolate":"step-after","fill":"white","stroke":null,"clip":true},"encoding":{"detail":{"field":"m"},"order":{"value":null}}},
{"transform":[{"filter":"isValid(datum.c)"}],"mark":{"type":"text","fontSize":10,"font":"Liberation Sans","fill":"#333"},"encoding":{"text":{"field":"c"}}},
{"transform":[{"filter":"isValid(datum.x2)"}],"mark":{"type":"rule","stroke":"#444","strokeWidth":1},"encoding":{"x2":{"field":"x2"},"y2":{"field":"y2"}}},
{"transform":[{"filter":"isValid(datum.t)"}],"mark":{"type":"text","fontSize":13,"font":"Liberation Sans","fill":"#222"},"encoding":{"text":{"field":"t"}}},
{"transform":[{"filter":"isValid(datum.q)"}],"mark":{"type":"text","fontSize":13,"font":"Liberation Sans","fill":"#222","angle":270},"encoding":{"text":{"field":"q"}}},
{"transform":[{"filter":"isValid(datum.a)"}],"mark":{"type":"text","fontSize":9.5,"font":"Liberation Sans","fill":"#444"},"encoding":{"text":{"field":"a"}}},
{"transform":[{"filter":"isValid(datum.r)"}],"mark":{"type":"text","fontSize":9.5,"font":"Liberation Sans","fill":"#444","angle":270},"encoding":{"text":{"field":"r"}}}
]}]}},
{"data":{"name":"d"},"bounds":"flush","transform":[{"filter":"datum.p>10"},{"calculate":"floor(((datum.p-1)%10)/3)","as":"ro"},{"calculate":"((datum.p-1)%10)%3","as":"co"}],"facet":{"row":{"field":"ro","type":"ordinal","header":null},"column":{"field":"co","type":"ordinal","header":null}},"spacing":{"row":3,"column":5},"spec":{"width":167,"height":134,"layer":[
{"transform":[{"filter":"!isValid(datum.x)&&isValid(datum.l)"}],"mark":{"type":"rect","opacity":1},"encoding":{"fill":{"field":"l","type":"quantitative","legend":null,"scale":{"domain":[-4.5,-3.5,-2.5,-1.5,-0.5,0.5,1.5,2.5,3.5,4.5,5.6],"range":["#dc2a14","#e4341a","#ee4d1a","#f36a1c","#f78a1c","#faa51e","#fcc61e","#fee524","#fff450","#ffff9c","#fffde6"]}}}},
{"encoding":{"x":{"field":"x","type":"quantitative","scale":{"domain":[40.2,42.39]}},"y":{"field":"y","type":"quantitative","scale":{"domain":[16.08,19.49]}}},"layer":[
{"transform":[{"filter":"isValid(datum.x)&&isValid(datum.l)"}],"mark":{"type":"line","interpolate":"cardinal-closed","stroke":"#222","strokeWidth":1,"clip":true,"opacity":1},"encoding":{"fill":{"field":"l","type":"quantitative","legend":null,"scale":{"domain":[-4.5,-3.5,-2.5,-1.5,-0.5,0.5,1.5,2.5,3.5,4.5,5.6],"range":["#dc2a14","#e4341a","#ee4d1a","#f36a1c","#f78a1c","#faa51e","#fcc61e","#fee524","#fff450","#ffff9c","#fffde6"]}},"order":{"value":null}}},
{"data":{"name":"mask"},"mark":{"type":"line","interpolate":"step-after","fill":"white","stroke":null,"clip":true},"encoding":{"detail":{"field":"m"},"order":{"value":null}}},
{"transform":[{"filter":"isValid(datum.c)"}],"mark":{"type":"text","fontSize":10,"font":"Liberation Sans","fill":"#333"},"encoding":{"text":{"field":"c"}}},
{"transform":[{"filter":"isValid(datum.x2)"}],"mark":{"type":"rule","stroke":"#444","strokeWidth":1},"encoding":{"x2":{"field":"x2"},"y2":{"field":"y2"}}},
{"transform":[{"filter":"isValid(datum.t)"}],"mark":{"type":"text","fontSize":13,"font":"Liberation Sans","fill":"#222"},"encoding":{"text":{"field":"t"}}},
{"transform":[{"filter":"isValid(datum.q)"}],"mark":{"type":"text","fontSize":13,"font":"Liberation Sans","fill":"#222","angle":270},"encoding":{"text":{"field":"q"}}},
{"transform":[{"filter":"isValid(datum.a)"}],"mark":{"type":"text","fontSize":9.5,"font":"Liberation Sans","fill":"#444"},"encoding":{"text":{"field":"a"}}},
{"transform":[{"filter":"isValid(datum.r)"}],"mark":{"type":"text","fontSize":9.5,"font":"Liberation Sans","fill":"#444","angle":270},"encoding":{"text":{"field":"r"}}}
]}]}}
],"spacing":564}
